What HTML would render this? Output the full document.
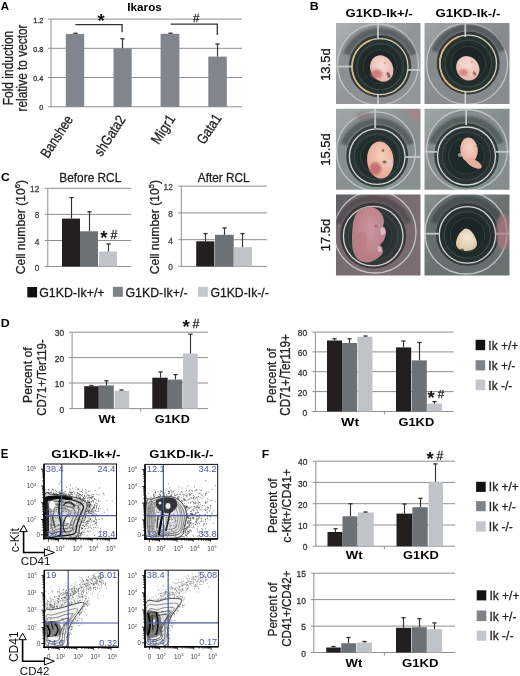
<!DOCTYPE html><html><head><meta charset="utf-8"><style>html,body{margin:0;padding:0;background:#fff;overflow:hidden}svg{display:block;will-change:transform}</style></head><body><svg width="520" height="676" viewBox="0 0 520 676" font-family='"Liberation Sans", sans-serif'>
<rect width="520" height="676" fill="#fff"/>
<text x="0.80" y="10.00" font-size="11.5" font-weight="bold" fill="#000" textLength="8.3" lengthAdjust="spacingAndGlyphs">A</text>
<text x="144.60" y="10.70" font-size="11.5" font-weight="bold" text-anchor="middle" fill="#000" textLength="34.5" lengthAdjust="spacingAndGlyphs">Ikaros</text>
<line x1="51.00" y1="19.10" x2="242.00" y2="19.10" stroke="#8f8f8f" stroke-width="1"/>
<line x1="48.00" y1="19.10" x2="51.00" y2="19.10" stroke="#8f8f8f" stroke-width="1"/>
<line x1="51.00" y1="48.30" x2="242.00" y2="48.30" stroke="#8f8f8f" stroke-width="1"/>
<line x1="48.00" y1="48.30" x2="51.00" y2="48.30" stroke="#8f8f8f" stroke-width="1"/>
<line x1="51.00" y1="77.50" x2="242.00" y2="77.50" stroke="#8f8f8f" stroke-width="1"/>
<line x1="48.00" y1="77.50" x2="51.00" y2="77.50" stroke="#8f8f8f" stroke-width="1"/>
<line x1="51.00" y1="106.80" x2="242.00" y2="106.80" stroke="#8f8f8f" stroke-width="1"/>
<line x1="48.00" y1="106.80" x2="51.00" y2="106.80" stroke="#8f8f8f" stroke-width="1"/>
<line x1="51.00" y1="19.10" x2="51.00" y2="106.80" stroke="#8f8f8f" stroke-width="1"/>
<text x="43.20" y="22.63" font-size="7.2" text-anchor="end" fill="#333" stroke="#333" stroke-width="0.28">1.2</text>
<text x="43.20" y="51.83" font-size="7.2" text-anchor="end" fill="#333" stroke="#333" stroke-width="0.28">0.8</text>
<text x="43.20" y="81.03" font-size="7.2" text-anchor="end" fill="#333" stroke="#333" stroke-width="0.28">0.4</text>
<text x="43.20" y="110.33" font-size="7.2" text-anchor="end" fill="#333" stroke="#333" stroke-width="0.28">0</text>
<rect x="65.80" y="34.00" width="18.40" height="72.80" fill="#80868d"/>
<line x1="75.50" y1="34.00" x2="75.50" y2="33.30" stroke="#333" stroke-width="1.15"/>
<line x1="73.40" y1="33.30" x2="77.60" y2="33.30" stroke="#333" stroke-width="1.3"/>
<rect x="113.50" y="48.40" width="18.20" height="58.40" fill="#80868d"/>
<line x1="122.50" y1="48.40" x2="122.50" y2="38.80" stroke="#333" stroke-width="1.15"/>
<line x1="120.40" y1="38.80" x2="124.60" y2="38.80" stroke="#333" stroke-width="1.3"/>
<rect x="160.60" y="33.80" width="18.80" height="73.00" fill="#80868d"/>
<line x1="170.50" y1="33.80" x2="170.50" y2="33.20" stroke="#333" stroke-width="1.15"/>
<line x1="168.40" y1="33.20" x2="172.60" y2="33.20" stroke="#333" stroke-width="1.3"/>
<rect x="208.30" y="56.60" width="18.50" height="50.20" fill="#80868d"/>
<line x1="217.50" y1="56.60" x2="217.50" y2="44.00" stroke="#333" stroke-width="1.15"/>
<line x1="215.40" y1="44.00" x2="219.60" y2="44.00" stroke="#333" stroke-width="1.3"/>
<polyline points="75.4,24.6 122.1,24.6 122.1,32.3" fill="none" stroke="#333" stroke-width="1.3"/>
<polyline points="170.8,24.2 217.3,24.2 217.3,34.9" fill="none" stroke="#333" stroke-width="1.3"/>
<text x="101.20" y="27.31" font-size="18.5" font-weight="bold" text-anchor="middle" fill="#111">*</text>
<text x="196.15" y="22.30" font-size="11.5" text-anchor="middle" fill="#222" stroke="#222" stroke-width="0.28">#</text>
<text transform="translate(13.20,68.00) rotate(-90)" font-size="14" text-anchor="middle" fill="#222" textLength="74.5" lengthAdjust="spacingAndGlyphs" stroke="#222" stroke-width="0.28">Fold induction</text>
<text transform="translate(26.80,68.00) rotate(-90)" font-size="13.8" text-anchor="middle" fill="#222" textLength="87" lengthAdjust="spacingAndGlyphs" stroke="#222" stroke-width="0.28">relative to vector</text>
<text transform="translate(73.50,119.50) rotate(-57)" font-size="14.5" text-anchor="end" fill="#222" textLength="47" lengthAdjust="spacingAndGlyphs" stroke="#222" stroke-width="0.28">Banshee</text>
<text transform="translate(126.00,119.50) rotate(-57)" font-size="14.5" text-anchor="end" fill="#222" textLength="45" lengthAdjust="spacingAndGlyphs" stroke="#222" stroke-width="0.28">shGata2</text>
<text transform="translate(176.00,118.50) rotate(-57)" font-size="14.5" text-anchor="end" fill="#222" textLength="32" lengthAdjust="spacingAndGlyphs" stroke="#222" stroke-width="0.28">Migr1</text>
<text transform="translate(222.00,118.00) rotate(-57)" font-size="14.5" text-anchor="end" fill="#222" textLength="32.5" lengthAdjust="spacingAndGlyphs" stroke="#222" stroke-width="0.28">Gata1</text>
<text x="309.70" y="10.00" font-size="11.8" font-weight="bold" fill="#000" textLength="9" lengthAdjust="spacingAndGlyphs">B</text>
<text x="379.10" y="17.20" font-size="11.3" font-weight="bold" text-anchor="middle" fill="#000" textLength="67.2" lengthAdjust="spacingAndGlyphs">G1KD-Ik+/-</text>
<text x="467.90" y="17.20" font-size="11.3" font-weight="bold" text-anchor="middle" fill="#000" textLength="64.9" lengthAdjust="spacingAndGlyphs">G1KD-Ik-/-</text>
<text transform="translate(329.70,64.60) rotate(-90)" font-size="13.5" text-anchor="middle" fill="#111" textLength="32.5" lengthAdjust="spacingAndGlyphs" stroke="#111" stroke-width="0.28">13.5d</text>
<text transform="translate(329.70,149.50) rotate(-90)" font-size="13.5" text-anchor="middle" fill="#111" textLength="32.5" lengthAdjust="spacingAndGlyphs" stroke="#111" stroke-width="0.28">15.5d</text>
<text transform="translate(329.70,235.00) rotate(-90)" font-size="13.5" text-anchor="middle" fill="#111" textLength="32.5" lengthAdjust="spacingAndGlyphs" stroke="#111" stroke-width="0.28">17.5d</text>
<defs><clipPath id="pc0"><rect x="336" y="23" width="84.5" height="81.0"/></clipPath><radialGradient id="pw0" gradientUnits="userSpaceOnUse" cx="380" cy="66.7" r="28"><stop offset="0" stop-color="#1d2726"/><stop offset="0.6" stop-color="#1d2726"/><stop offset="1" stop-color="#2b3535"/></radialGradient><linearGradient id="pb0" x1="0" y1="0" x2="1" y2="1"><stop offset="0" stop-color="#aeb0b3"/><stop offset="0.5" stop-color="#939598"/><stop offset="1" stop-color="#939598"/></linearGradient><radialGradient id="pe0" cx="0.55" cy="0.4" r="0.6"><stop offset="0" stop-color="#f6dcd6"/><stop offset="1" stop-color="#e6b4ac"/></radialGradient><clipPath id="pc1"><rect x="424.5" y="23" width="85.0" height="81.0"/></clipPath><radialGradient id="pw1" gradientUnits="userSpaceOnUse" cx="468.2" cy="63.5" r="28.3"><stop offset="0" stop-color="#1d2726"/><stop offset="0.6" stop-color="#1d2726"/><stop offset="1" stop-color="#2b3534"/></radialGradient><linearGradient id="pb1" x1="0" y1="0" x2="1" y2="1"><stop offset="0" stop-color="#a2a4a7"/><stop offset="0.5" stop-color="#898b8e"/><stop offset="1" stop-color="#898b8e"/></linearGradient><radialGradient id="pe1" cx="0.55" cy="0.4" r="0.6"><stop offset="0" stop-color="#f6dcd4"/><stop offset="1" stop-color="#e8bab0"/></radialGradient><clipPath id="pc2"><rect x="336" y="108.7" width="84.5" height="81.1"/></clipPath><radialGradient id="pw2" gradientUnits="userSpaceOnUse" cx="377.2" cy="156.6" r="27.8"><stop offset="0" stop-color="#1f2b2a"/><stop offset="0.6" stop-color="#1f2b2a"/><stop offset="1" stop-color="#2d3938"/></radialGradient><linearGradient id="pb2" x1="0" y1="0" x2="1" y2="1"><stop offset="0" stop-color="#a2aaa9"/><stop offset="0.5" stop-color="#899190"/><stop offset="1" stop-color="#899190"/></linearGradient><radialGradient id="pe2" cx="0.55" cy="0.4" r="0.6"><stop offset="0" stop-color="#f6d2bf"/><stop offset="1" stop-color="#eaa892"/></radialGradient><clipPath id="pc3"><rect x="424.5" y="108.7" width="85.0" height="81.1"/></clipPath><radialGradient id="pw3" gradientUnits="userSpaceOnUse" cx="466.5" cy="156" r="29"><stop offset="0" stop-color="#1f2a29"/><stop offset="0.6" stop-color="#1f2a29"/><stop offset="1" stop-color="#2d3837"/></radialGradient><linearGradient id="pb3" x1="0" y1="0" x2="1" y2="1"><stop offset="0" stop-color="#a0a8a7"/><stop offset="0.5" stop-color="#868e8d"/><stop offset="1" stop-color="#868e8d"/></linearGradient><radialGradient id="pe3" cx="0.55" cy="0.4" r="0.6"><stop offset="0" stop-color="#f4d4c8"/><stop offset="1" stop-color="#e8ae9e"/></radialGradient><clipPath id="pc4"><rect x="336" y="194.6" width="84.5" height="81.0"/></clipPath><radialGradient id="pw4" gradientUnits="userSpaceOnUse" cx="373.2" cy="236.1" r="29.8"><stop offset="0" stop-color="#283030"/><stop offset="0.6" stop-color="#283030"/><stop offset="1" stop-color="#343a3a"/></radialGradient><linearGradient id="pb4" x1="0" y1="0" x2="1" y2="1"><stop offset="0" stop-color="#5e5e62"/><stop offset="0.5" stop-color="#7a6e72"/><stop offset="1" stop-color="#7a6e72"/></linearGradient><radialGradient id="pe4" cx="0.55" cy="0.4" r="0.6"><stop offset="0" stop-color="#cc969c"/><stop offset="1" stop-color="#b47a84"/></radialGradient><clipPath id="pc5"><rect x="424.5" y="194.6" width="85.0" height="81.0"/></clipPath><radialGradient id="pw5" gradientUnits="userSpaceOnUse" cx="467.4" cy="234.9" r="28.2"><stop offset="0" stop-color="#1c2625"/><stop offset="0.6" stop-color="#1c2625"/><stop offset="1" stop-color="#2a3433"/></radialGradient><linearGradient id="pb5" x1="0" y1="0" x2="1" y2="1"><stop offset="0" stop-color="#8c9291"/><stop offset="0.5" stop-color="#6a7170"/><stop offset="1" stop-color="#6a7170"/></linearGradient><radialGradient id="pe5" cx="0.55" cy="0.4" r="0.6"><stop offset="0" stop-color="#f2e8d8"/><stop offset="1" stop-color="#dcc6a8"/></radialGradient><filter id="pbl" x="-5%" y="-5%" width="110%" height="110%"><feGaussianBlur stdDeviation="0.5"/></filter><filter id="pbl2" x="-20%" y="-20%" width="140%" height="140%"><feGaussianBlur stdDeviation="1.2"/></filter></defs>
<g clip-path="url(#pc0)"><g filter="url(#pbl)"><rect x="334" y="21" width="88.5" height="85.0" fill="url(#pb0)"/><circle cx="378" cy="64.5" r="39.5" fill="#8c9093"/><circle cx="378" cy="64.5" r="40.5" fill="none" stroke="#bfc2c5" stroke-width="1.3"/><path d="M346.6,54.6 A35.5,35.5 0 0 1 413.4,54.6" fill="none" stroke="#363c3e" stroke-width="7" opacity="0.55" filter="url(#pbl2)"/><circle cx="380.0" cy="66.2" r="31.2" fill="#363c3e"/><circle cx="380" cy="66.7" r="28" fill="url(#pw0)"/><circle cx="380" cy="66.7" r="23" fill="none" stroke="#3e4c4b" stroke-width="1.2" opacity="0.8"/><circle cx="380" cy="66.7" r="17" fill="none" stroke="#3a4847" stroke-width="1.0" opacity="0.7"/><circle cx="380" cy="66.7" r="28" fill="none" stroke="#d6ccb2" stroke-width="1.3"/><path d="M370.4,93.0 A28,28 0 0 1 370.4,40.4" fill="none" stroke="#d9b878" stroke-width="1.6"/><line x1="336" y1="66.5" x2="352" y2="66.5" stroke="#c4c6c8" stroke-width="1.8"/><line x1="408" y1="70" x2="420.5" y2="70" stroke="#c4c6c8" stroke-width="1.8"/><line x1="378" y1="23" x2="378" y2="38" stroke="#c4c6c8" stroke-width="1.8"/><line x1="378" y1="95" x2="378" y2="104" stroke="#c4c6c8" stroke-width="1.8"/></g><g filter="url(#pbl)"><ellipse cx="381.8" cy="68.5" rx="11.3" ry="13.6" transform="rotate(-25 381.8 68.5)" fill="url(#pe0)"/><ellipse cx="388.5" cy="75" rx="1.4" ry="3.2" transform="rotate(-20 388.5 75)" fill="#2a1a1a" opacity="0.6" filter="url(#pbl)"/><ellipse cx="385" cy="63" rx="1.5" ry="1.2" transform="rotate(0 385 63)" fill="#c09080" opacity="0.5" filter="url(#pbl)"/></g><ellipse cx="376.5" cy="74" rx="6" ry="4.5" fill="#c86a66" opacity="0.75" filter="url(#pbl2)"/></g>
<g clip-path="url(#pc1)"><g filter="url(#pbl)"><rect x="422.5" y="21" width="89.0" height="85.0" fill="url(#pb1)"/><circle cx="467" cy="64" r="39.5" fill="#868a8d"/><circle cx="467" cy="64" r="40.5" fill="none" stroke="#bfc2c5" stroke-width="1.3"/><path d="M434.6,51.3 A35.8,35.8 0 0 1 501.8,51.3" fill="none" stroke="#33393b" stroke-width="7" opacity="0.55" filter="url(#pbl2)"/><circle cx="468.2" cy="63.0" r="31.5" fill="#33393b"/><circle cx="468.2" cy="63.5" r="28.3" fill="url(#pw1)"/><circle cx="468.2" cy="63.5" r="23.3" fill="none" stroke="#3e4c4b" stroke-width="1.2" opacity="0.8"/><circle cx="468.2" cy="63.5" r="17.3" fill="none" stroke="#3a4847" stroke-width="1.0" opacity="0.7"/><circle cx="468.2" cy="63.5" r="28.3" fill="none" stroke="#d6ccb2" stroke-width="1.3"/><path d="M458.5,90.1 A28.3,28.3 0 0 1 458.5,36.9" fill="none" stroke="#d9b878" stroke-width="1.6"/><line x1="465.3" y1="23" x2="465.3" y2="37" stroke="#c4c6c8" stroke-width="1.8"/><line x1="465.3" y1="92" x2="465.3" y2="104" stroke="#c4c6c8" stroke-width="1.8"/></g><g filter="url(#pbl)"><ellipse cx="467.8" cy="68.3" rx="11.2" ry="12.6" transform="rotate(-35 467.8 68.3)" fill="url(#pe1)"/><ellipse cx="474.5" cy="73.5" rx="1.3" ry="2.6" transform="rotate(-30 474.5 73.5)" fill="#2a1a1a" opacity="0.55" filter="url(#pbl)"/><ellipse cx="472" cy="62" rx="1.3" ry="1.2" transform="rotate(0 472 62)" fill="#c09080" opacity="0.5" filter="url(#pbl)"/></g><ellipse cx="463.5" cy="72.5" rx="4.5" ry="3.5" fill="#cc7470" opacity="0.75" filter="url(#pbl2)"/></g>
<g clip-path="url(#pc2)"><g filter="url(#pbl)"><rect x="334" y="106.7" width="88.5" height="85.1" fill="url(#pb2)"/><circle cx="376" cy="151.3" r="38.5" fill="#86908f"/><circle cx="376" cy="151.3" r="39.5" fill="none" stroke="#bfc2c5" stroke-width="1.3"/><path d="M344.0,144.5 A35.3,35.3 0 0 1 410.4,144.5" fill="none" stroke="#343e3d" stroke-width="7" opacity="0.55" filter="url(#pbl2)"/><circle cx="377.2" cy="156.1" r="31.0" fill="#343e3d"/><circle cx="377.2" cy="156.6" r="27.8" fill="url(#pw2)"/><circle cx="377.2" cy="156.6" r="22.8" fill="none" stroke="#3e4c4b" stroke-width="1.2" opacity="0.8"/><circle cx="377.2" cy="156.6" r="16.8" fill="none" stroke="#3a4847" stroke-width="1.0" opacity="0.7"/><circle cx="377.2" cy="156.6" r="27.8" fill="none" stroke="#d2d4d2" stroke-width="1.3"/><line x1="375.2" y1="108.7" x2="375.2" y2="128" stroke="#c4c6c8" stroke-width="1.8"/><line x1="405" y1="157" x2="420.5" y2="157" stroke="#c4c6c8" stroke-width="1.8"/><ellipse cx="416" cy="114" rx="8" ry="7" fill="#b08088" opacity="0.6" filter="url(#pbl2)"/><ellipse cx="365" cy="116" rx="9" ry="4" fill="#8a7078" opacity="0.5" filter="url(#pbl2)"/></g><g filter="url(#pbl)"><ellipse cx="380.3" cy="160" rx="13.2" ry="18.6" transform="rotate(-4 380.3 160)" fill="url(#pe2)"/><ellipse cx="383" cy="150.5" rx="1.4" ry="1.4" transform="rotate(0 383 150.5)" fill="#5a3030" opacity="0.55" filter="url(#pbl)"/><ellipse cx="384.5" cy="162" rx="2" ry="1.5" transform="rotate(0 384.5 162)" fill="#3a2020" opacity="0.6" filter="url(#pbl)"/><ellipse cx="390" cy="164" rx="2.5" ry="5" transform="rotate(0 390 164)" fill="#d8d0d0" opacity="0.6" filter="url(#pbl)"/></g><ellipse cx="375.5" cy="168.5" rx="6" ry="6.5" fill="#b85a66" opacity="0.75" filter="url(#pbl2)"/></g>
<g clip-path="url(#pc3)"><g filter="url(#pbl)"><rect x="422.5" y="106.7" width="89.0" height="85.1" fill="url(#pb3)"/><circle cx="467" cy="150" r="39.5" fill="#838d8b"/><circle cx="467" cy="150" r="40.5" fill="none" stroke="#bfc2c5" stroke-width="1.3"/><path d="M432.2,143.5 A36.5,36.5 0 0 1 500.8,143.5" fill="none" stroke="#323c3b" stroke-width="7" opacity="0.55" filter="url(#pbl2)"/><circle cx="466.5" cy="155.5" r="32.2" fill="#323c3b"/><circle cx="466.5" cy="156" r="29" fill="url(#pw3)"/><circle cx="466.5" cy="156" r="24" fill="none" stroke="#3e4c4b" stroke-width="1.2" opacity="0.8"/><circle cx="466.5" cy="156" r="18" fill="none" stroke="#3a4847" stroke-width="1.0" opacity="0.7"/><circle cx="466.5" cy="156" r="29" fill="none" stroke="#d6d8d6" stroke-width="1.3"/><line x1="466.1" y1="108.7" x2="466.1" y2="125" stroke="#c4c6c8" stroke-width="1.8"/><line x1="424.5" y1="151.8" x2="437" y2="151.8" stroke="#c4c6c8" stroke-width="1.8"/><line x1="496" y1="151.8" x2="509.5" y2="151.8" stroke="#c4c6c8" stroke-width="1.8"/></g><g filter="url(#pbl)"><ellipse cx="469" cy="150" rx="8.8" ry="12.5" transform="rotate(-5 469 150)" fill="url(#pe3)"/><ellipse cx="474" cy="163.5" rx="8.5" ry="3.8" transform="rotate(28 474 163.5)" fill="#e8ae9e"/><ellipse cx="460" cy="155" rx="2" ry="2" transform="rotate(0 460 155)" fill="#e0e0e0" opacity="0.6" filter="url(#pbl)"/><ellipse cx="476" cy="146" rx="1.2" ry="1.2" transform="rotate(0 476 146)" fill="#906868" opacity="0.4" filter="url(#pbl)"/></g></g>
<g clip-path="url(#pc4)"><g filter="url(#pbl)"><rect x="334" y="192.6" width="88.5" height="85.0" fill="url(#pb4)"/><circle cx="375" cy="232" r="40" fill="#7a6a70"/><circle cx="375" cy="232" r="41" fill="none" stroke="#bfc2c5" stroke-width="1.3"/><path d="M338.1,223.3 A37.3,37.3 0 0 1 408.3,223.3" fill="none" stroke="#3a3a3e" stroke-width="7" opacity="0.55" filter="url(#pbl2)"/><circle cx="373.2" cy="235.6" r="33.0" fill="#3a3a3e"/><circle cx="373.2" cy="236.1" r="29.8" fill="url(#pw4)"/><circle cx="373.2" cy="236.1" r="24.8" fill="none" stroke="#3e4c4b" stroke-width="1.2" opacity="0.8"/><circle cx="373.2" cy="236.1" r="18.8" fill="none" stroke="#3a4847" stroke-width="1.0" opacity="0.7"/><circle cx="373.2" cy="236.1" r="29.8" fill="none" stroke="#cfd1d1" stroke-width="1.3"/></g><g filter="url(#pbl)"><path d="M362.0,208.5C364.7,207.3 369.0,206.4 372.0,207.0C375.0,207.6 378.0,209.8 380.0,212.0C382.0,214.2 383.5,217.3 384.0,220.0C384.5,222.7 382.7,226.0 383.0,228.0C383.3,230.0 385.8,230.0 386.0,232.0C386.2,234.0 385.0,237.7 384.0,240.0C383.0,242.3 380.2,244.0 380.0,246.0C379.8,248.0 383.3,250.0 383.0,252.0C382.7,254.0 380.5,256.2 378.0,258.0C375.5,259.8 371.3,262.2 368.0,262.5C364.7,262.8 360.5,261.6 358.0,259.5C355.5,257.4 354.0,253.6 353.0,250.0C352.0,246.4 352.0,242.3 352.0,238.0C352.0,233.7 352.3,228.0 353.0,224.0C353.7,220.0 354.5,216.6 356.0,214.0C357.5,211.4 359.3,209.7 362.0,208.5Z" fill="url(#pe4)"/><ellipse cx="383" cy="231" rx="2.5" ry="4" transform="rotate(0 383 231)" fill="#e6c8c8" opacity="0.8" filter="url(#pbl)"/><ellipse cx="380" cy="249" rx="2.5" ry="3" transform="rotate(0 380 249)" fill="#e6c8c8" opacity="0.7" filter="url(#pbl)"/><ellipse cx="376" cy="226" rx="1.5" ry="1.5" transform="rotate(0 376 226)" fill="#6a4040" opacity="0.45" filter="url(#pbl)"/><ellipse cx="362" cy="240" rx="5" ry="9" transform="rotate(0 362 240)" fill="#b87478" opacity="0.4" filter="url(#pbl)"/></g></g>
<g clip-path="url(#pc5)"><g filter="url(#pbl)"><rect x="422.5" y="192.6" width="89.0" height="85.0" fill="url(#pb5)"/><circle cx="466" cy="233" r="40" fill="#666e6e"/><circle cx="466" cy="233" r="41" fill="none" stroke="#bfc2c5" stroke-width="1.3"/><path d="M433.9,222.7 A35.7,35.7 0 0 1 500.9,222.7" fill="none" stroke="#323a3a" stroke-width="7" opacity="0.55" filter="url(#pbl2)"/><circle cx="467.4" cy="234.4" r="31.4" fill="#323a3a"/><circle cx="467.4" cy="234.9" r="28.2" fill="url(#pw5)"/><circle cx="467.4" cy="234.9" r="23.2" fill="none" stroke="#3e4c4b" stroke-width="1.2" opacity="0.8"/><circle cx="467.4" cy="234.9" r="17.2" fill="none" stroke="#3a4847" stroke-width="1.0" opacity="0.7"/><circle cx="467.4" cy="234.9" r="28.2" fill="none" stroke="#d4d4d0" stroke-width="1.3"/><line x1="424.5" y1="233.7" x2="440" y2="233.7" stroke="#c4c6c8" stroke-width="1.8"/><line x1="495" y1="233.7" x2="509.5" y2="233.7" stroke="#c4c6c8" stroke-width="1.8"/><ellipse cx="503" cy="232" rx="7" ry="18" fill="#b07a80" opacity="0.7" filter="url(#pbl2)"/></g><g filter="url(#pbl)"><path d="M466.0,228.5C467.5,228.5 469.5,229.6 471.0,231.0C472.5,232.4 474.0,234.8 475.0,237.0C476.0,239.2 477.2,242.0 477.0,244.0C476.8,246.0 475.8,247.8 474.0,249.0C472.2,250.2 468.5,251.0 466.0,251.0C463.5,251.0 460.7,250.2 459.0,249.0C457.3,247.8 456.2,246.2 456.0,244.0C455.8,241.8 457.0,238.2 458.0,236.0C459.0,233.8 460.7,232.2 462.0,231.0C463.3,229.8 464.5,228.5 466.0,228.5Z" fill="url(#pe5)"/><ellipse cx="462" cy="250" rx="2" ry="1.5" transform="rotate(0 462 250)" fill="#2a2a2a" opacity="0.6" filter="url(#pbl)"/></g></g>
<text x="0.90" y="181.00" font-size="11.5" font-weight="bold" fill="#000" textLength="8.8" lengthAdjust="spacingAndGlyphs">C</text>
<text x="90.30" y="182.20" font-size="12.2" text-anchor="middle" fill="#222" textLength="62" lengthAdjust="spacingAndGlyphs" stroke="#222" stroke-width="0.28">Before RCL</text>
<line x1="47.80" y1="188.30" x2="131.20" y2="188.30" stroke="#8f8f8f" stroke-width="1"/>
<line x1="44.80" y1="188.30" x2="47.80" y2="188.30" stroke="#8f8f8f" stroke-width="1"/>
<line x1="47.80" y1="214.40" x2="131.20" y2="214.40" stroke="#8f8f8f" stroke-width="1"/>
<line x1="44.80" y1="214.40" x2="47.80" y2="214.40" stroke="#8f8f8f" stroke-width="1"/>
<line x1="47.80" y1="240.50" x2="131.20" y2="240.50" stroke="#8f8f8f" stroke-width="1"/>
<line x1="44.80" y1="240.50" x2="47.80" y2="240.50" stroke="#8f8f8f" stroke-width="1"/>
<line x1="47.80" y1="266.50" x2="131.20" y2="266.50" stroke="#8f8f8f" stroke-width="1"/>
<line x1="44.80" y1="266.50" x2="47.80" y2="266.50" stroke="#8f8f8f" stroke-width="1"/>
<line x1="47.80" y1="188.30" x2="47.80" y2="266.50" stroke="#8f8f8f" stroke-width="1"/>
<text x="39.30" y="192.37" font-size="8.3" text-anchor="end" fill="#444" stroke="#444" stroke-width="0.28">12</text>
<text x="39.30" y="218.47" font-size="8.3" text-anchor="end" fill="#444" stroke="#444" stroke-width="0.28">8</text>
<text x="39.30" y="244.57" font-size="8.3" text-anchor="end" fill="#444" stroke="#444" stroke-width="0.28">4</text>
<text x="39.30" y="270.57" font-size="8.3" text-anchor="end" fill="#444" stroke="#444" stroke-width="0.28">0</text>
<rect x="62.00" y="218.60" width="18.00" height="47.90" fill="#231f20"/>
<line x1="71.50" y1="218.60" x2="71.50" y2="197.60" stroke="#333" stroke-width="1.15"/>
<line x1="69.40" y1="197.60" x2="73.60" y2="197.60" stroke="#333" stroke-width="1.3"/>
<rect x="80.00" y="231.30" width="18.00" height="35.20" fill="#6c7175"/>
<line x1="89.50" y1="231.30" x2="89.50" y2="211.70" stroke="#333" stroke-width="1.15"/>
<line x1="87.40" y1="211.70" x2="91.60" y2="211.70" stroke="#333" stroke-width="1.3"/>
<rect x="99.00" y="251.50" width="18.00" height="15.00" fill="#c0c4c8"/>
<line x1="108.50" y1="251.50" x2="108.50" y2="244.00" stroke="#333" stroke-width="1.15"/>
<line x1="106.40" y1="244.00" x2="110.60" y2="244.00" stroke="#333" stroke-width="1.3"/>
<text x="103.75" y="243.56" font-size="18.5" font-weight="bold" text-anchor="middle" fill="#111">*</text>
<text x="113.90" y="238.50" font-size="12.2" text-anchor="middle" fill="#222" stroke="#222" stroke-width="0.28">#</text>
<text transform="translate(24.50,227.20) rotate(-90)" font-size="12.1" text-anchor="middle" fill="#222" stroke="#222" stroke-width="0.28">Cell number (10<tspan font-size="7.5" dy="-5">6</tspan><tspan dy="5">)</tspan></text>
<text x="223.70" y="182.20" font-size="12.2" text-anchor="middle" fill="#222" textLength="51.8" lengthAdjust="spacingAndGlyphs" stroke="#222" stroke-width="0.28">After RCL</text>
<line x1="181.30" y1="186.10" x2="267.00" y2="186.10" stroke="#8f8f8f" stroke-width="1"/>
<line x1="178.30" y1="186.10" x2="181.30" y2="186.10" stroke="#8f8f8f" stroke-width="1"/>
<line x1="181.30" y1="212.90" x2="267.00" y2="212.90" stroke="#8f8f8f" stroke-width="1"/>
<line x1="178.30" y1="212.90" x2="181.30" y2="212.90" stroke="#8f8f8f" stroke-width="1"/>
<line x1="181.30" y1="239.70" x2="267.00" y2="239.70" stroke="#8f8f8f" stroke-width="1"/>
<line x1="178.30" y1="239.70" x2="181.30" y2="239.70" stroke="#8f8f8f" stroke-width="1"/>
<line x1="181.30" y1="266.40" x2="267.00" y2="266.40" stroke="#8f8f8f" stroke-width="1"/>
<line x1="178.30" y1="266.40" x2="181.30" y2="266.40" stroke="#8f8f8f" stroke-width="1"/>
<line x1="181.30" y1="186.10" x2="181.30" y2="266.40" stroke="#8f8f8f" stroke-width="1"/>
<text x="172.80" y="190.17" font-size="8.3" text-anchor="end" fill="#444" stroke="#444" stroke-width="0.28">12</text>
<text x="172.80" y="216.97" font-size="8.3" text-anchor="end" fill="#444" stroke="#444" stroke-width="0.28">8</text>
<text x="172.80" y="243.77" font-size="8.3" text-anchor="end" fill="#444" stroke="#444" stroke-width="0.28">4</text>
<text x="172.80" y="270.47" font-size="8.3" text-anchor="end" fill="#444" stroke="#444" stroke-width="0.28">0</text>
<rect x="196.20" y="241.30" width="18.20" height="25.10" fill="#231f20"/>
<line x1="205.50" y1="241.30" x2="205.50" y2="233.60" stroke="#333" stroke-width="1.15"/>
<line x1="203.40" y1="233.60" x2="207.60" y2="233.60" stroke="#333" stroke-width="1.3"/>
<rect x="215.00" y="234.80" width="18.70" height="31.60" fill="#6c7175"/>
<line x1="224.50" y1="234.80" x2="224.50" y2="227.90" stroke="#333" stroke-width="1.15"/>
<line x1="222.40" y1="227.90" x2="226.60" y2="227.90" stroke="#333" stroke-width="1.3"/>
<rect x="233.70" y="247.20" width="18.30" height="19.20" fill="#c0c4c8"/>
<line x1="242.50" y1="247.20" x2="242.50" y2="233.60" stroke="#333" stroke-width="1.15"/>
<line x1="240.40" y1="233.60" x2="244.60" y2="233.60" stroke="#333" stroke-width="1.3"/>
<text transform="translate(158.60,227.20) rotate(-90)" font-size="12.1" text-anchor="middle" fill="#222" stroke="#222" stroke-width="0.28">Cell number (10<tspan font-size="7.5" dy="-5">5</tspan><tspan dy="5">)</tspan></text>
<rect x="27.30" y="287.00" width="9.80" height="10.40" fill="#111"/>
<text x="39.20" y="297.00" font-size="12.5" fill="#1a1a1a" textLength="65.4" lengthAdjust="spacingAndGlyphs" stroke="#1a1a1a" stroke-width="0.28">G1KD-Ik+/+</text>
<rect x="112.90" y="286.80" width="10.00" height="10.00" fill="#7e8388"/>
<text x="125.40" y="297.00" font-size="12.5" fill="#1a1a1a" textLength="62.2" lengthAdjust="spacingAndGlyphs" stroke="#1a1a1a" stroke-width="0.28">G1KD-Ik+/-</text>
<rect x="198.10" y="286.80" width="9.70" height="10.00" fill="#c3c6cb"/>
<text x="210.40" y="297.00" font-size="12.5" fill="#1a1a1a" textLength="58.4" lengthAdjust="spacingAndGlyphs" stroke="#1a1a1a" stroke-width="0.28">G1KD-Ik-/-</text>
<text x="0.70" y="327.20" font-size="11.5" font-weight="bold" fill="#000" textLength="9" lengthAdjust="spacingAndGlyphs">D</text>
<line x1="72.10" y1="332.20" x2="208.00" y2="332.20" stroke="#8f8f8f" stroke-width="1"/>
<line x1="69.10" y1="332.20" x2="72.10" y2="332.20" stroke="#8f8f8f" stroke-width="1"/>
<line x1="72.10" y1="357.60" x2="208.00" y2="357.60" stroke="#8f8f8f" stroke-width="1"/>
<line x1="69.10" y1="357.60" x2="72.10" y2="357.60" stroke="#8f8f8f" stroke-width="1"/>
<line x1="72.10" y1="383.00" x2="208.00" y2="383.00" stroke="#8f8f8f" stroke-width="1"/>
<line x1="69.10" y1="383.00" x2="72.10" y2="383.00" stroke="#8f8f8f" stroke-width="1"/>
<line x1="72.10" y1="408.60" x2="208.00" y2="408.60" stroke="#8f8f8f" stroke-width="1"/>
<line x1="69.10" y1="408.60" x2="72.10" y2="408.60" stroke="#8f8f8f" stroke-width="1"/>
<line x1="72.10" y1="332.20" x2="72.10" y2="408.60" stroke="#8f8f8f" stroke-width="1"/>
<text x="64.20" y="336.32" font-size="8.4" text-anchor="end" fill="#333" stroke="#333" stroke-width="0.28">30</text>
<text x="64.20" y="361.72" font-size="8.4" text-anchor="end" fill="#333" stroke="#333" stroke-width="0.28">20</text>
<text x="64.20" y="387.12" font-size="8.4" text-anchor="end" fill="#333" stroke="#333" stroke-width="0.28">10</text>
<text x="64.20" y="412.72" font-size="8.4" text-anchor="end" fill="#333" stroke="#333" stroke-width="0.28">0</text>
<line x1="140.80" y1="408.60" x2="140.80" y2="411.60" stroke="#8f8f8f" stroke-width="1"/>
<rect x="84.20" y="386.20" width="14.60" height="22.40" fill="#231f20"/>
<line x1="91.50" y1="386.20" x2="91.50" y2="385.50" stroke="#333" stroke-width="1.15"/>
<line x1="89.40" y1="385.50" x2="93.60" y2="385.50" stroke="#333" stroke-width="1.3"/>
<rect x="98.80" y="385.40" width="15.00" height="23.20" fill="#6c7175"/>
<line x1="106.50" y1="385.40" x2="106.50" y2="380.80" stroke="#333" stroke-width="1.15"/>
<line x1="104.40" y1="380.80" x2="108.60" y2="380.80" stroke="#333" stroke-width="1.3"/>
<rect x="114.60" y="390.80" width="14.60" height="17.80" fill="#c0c4c8"/>
<line x1="121.50" y1="390.80" x2="121.50" y2="390.00" stroke="#333" stroke-width="1.15"/>
<line x1="119.40" y1="390.00" x2="123.60" y2="390.00" stroke="#333" stroke-width="1.3"/>
<rect x="152.30" y="377.70" width="15.40" height="30.90" fill="#231f20"/>
<line x1="160.50" y1="377.70" x2="160.50" y2="371.90" stroke="#333" stroke-width="1.15"/>
<line x1="158.40" y1="371.90" x2="162.60" y2="371.90" stroke="#333" stroke-width="1.3"/>
<rect x="167.70" y="379.60" width="14.60" height="29.00" fill="#6c7175"/>
<line x1="175.50" y1="379.60" x2="175.50" y2="374.60" stroke="#333" stroke-width="1.15"/>
<line x1="173.40" y1="374.60" x2="177.60" y2="374.60" stroke="#333" stroke-width="1.3"/>
<rect x="183.00" y="353.50" width="14.70" height="55.10" fill="#c0c4c8"/>
<line x1="190.50" y1="353.50" x2="190.50" y2="334.20" stroke="#333" stroke-width="1.15"/>
<line x1="188.40" y1="334.20" x2="192.60" y2="334.20" stroke="#333" stroke-width="1.3"/>
<text x="186.00" y="332.87" font-size="18.5" font-weight="bold" text-anchor="middle" fill="#111">*</text>
<text x="195.90" y="327.60" font-size="12.3" text-anchor="middle" fill="#222" stroke="#222" stroke-width="0.28">#</text>
<text x="107.00" y="422.60" font-size="10.6" font-weight="bold" text-anchor="middle" fill="#000" textLength="16.8" lengthAdjust="spacingAndGlyphs">Wt</text>
<text x="172.30" y="422.60" font-size="10.6" font-weight="bold" text-anchor="middle" fill="#000" textLength="35" lengthAdjust="spacingAndGlyphs">G1KD</text>
<text transform="translate(32.00,375.20) rotate(-90)" font-size="13.3" text-anchor="middle" fill="#222" textLength="55.5" lengthAdjust="spacingAndGlyphs" stroke="#222" stroke-width="0.28">Percent of</text>
<text transform="translate(46.00,377.60) rotate(-90)" font-size="13.3" text-anchor="middle" fill="#222" textLength="76.4" lengthAdjust="spacingAndGlyphs" stroke="#222" stroke-width="0.28">CD71+/Ter119-</text>
<line x1="315.40" y1="332.10" x2="453.60" y2="332.10" stroke="#8f8f8f" stroke-width="1"/>
<line x1="312.40" y1="332.10" x2="315.40" y2="332.10" stroke="#8f8f8f" stroke-width="1"/>
<line x1="315.40" y1="351.90" x2="453.60" y2="351.90" stroke="#8f8f8f" stroke-width="1"/>
<line x1="312.40" y1="351.90" x2="315.40" y2="351.90" stroke="#8f8f8f" stroke-width="1"/>
<line x1="315.40" y1="371.70" x2="453.60" y2="371.70" stroke="#8f8f8f" stroke-width="1"/>
<line x1="312.40" y1="371.70" x2="315.40" y2="371.70" stroke="#8f8f8f" stroke-width="1"/>
<line x1="315.40" y1="391.60" x2="453.60" y2="391.60" stroke="#8f8f8f" stroke-width="1"/>
<line x1="312.40" y1="391.60" x2="315.40" y2="391.60" stroke="#8f8f8f" stroke-width="1"/>
<line x1="315.40" y1="411.50" x2="453.60" y2="411.50" stroke="#8f8f8f" stroke-width="1"/>
<line x1="312.40" y1="411.50" x2="315.40" y2="411.50" stroke="#8f8f8f" stroke-width="1"/>
<line x1="315.40" y1="332.10" x2="315.40" y2="411.50" stroke="#8f8f8f" stroke-width="1"/>
<text x="307.20" y="336.22" font-size="8.4" text-anchor="end" fill="#333" stroke="#333" stroke-width="0.28">80</text>
<text x="307.20" y="356.02" font-size="8.4" text-anchor="end" fill="#333" stroke="#333" stroke-width="0.28">60</text>
<text x="307.20" y="375.82" font-size="8.4" text-anchor="end" fill="#333" stroke="#333" stroke-width="0.28">40</text>
<text x="307.20" y="395.72" font-size="8.4" text-anchor="end" fill="#333" stroke="#333" stroke-width="0.28">20</text>
<text x="307.20" y="415.62" font-size="8.4" text-anchor="end" fill="#333" stroke="#333" stroke-width="0.28">0</text>
<line x1="384.40" y1="411.50" x2="384.40" y2="414.50" stroke="#8f8f8f" stroke-width="1"/>
<rect x="327.00" y="340.50" width="15.00" height="71.00" fill="#231f20"/>
<line x1="334.50" y1="340.50" x2="334.50" y2="338.75" stroke="#333" stroke-width="1.15"/>
<line x1="332.40" y1="338.75" x2="336.60" y2="338.75" stroke="#333" stroke-width="1.3"/>
<rect x="342.00" y="343.00" width="15.00" height="68.50" fill="#6c7175"/>
<line x1="349.50" y1="343.00" x2="349.50" y2="338.75" stroke="#333" stroke-width="1.15"/>
<line x1="347.40" y1="338.75" x2="351.60" y2="338.75" stroke="#333" stroke-width="1.3"/>
<rect x="357.50" y="336.75" width="15.00" height="74.75" fill="#c0c4c8"/>
<line x1="365.50" y1="336.75" x2="365.50" y2="336.00" stroke="#333" stroke-width="1.15"/>
<line x1="363.40" y1="336.00" x2="367.60" y2="336.00" stroke="#333" stroke-width="1.3"/>
<rect x="396.00" y="347.40" width="15.20" height="64.10" fill="#231f20"/>
<line x1="403.50" y1="347.40" x2="403.50" y2="341.00" stroke="#333" stroke-width="1.15"/>
<line x1="401.40" y1="341.00" x2="405.60" y2="341.00" stroke="#333" stroke-width="1.3"/>
<rect x="411.80" y="360.40" width="15.00" height="51.10" fill="#6c7175"/>
<line x1="419.50" y1="360.40" x2="419.50" y2="342.50" stroke="#333" stroke-width="1.15"/>
<line x1="417.40" y1="342.50" x2="421.60" y2="342.50" stroke="#333" stroke-width="1.3"/>
<rect x="427.10" y="403.60" width="15.00" height="7.90" fill="#c0c4c8"/>
<line x1="434.50" y1="403.60" x2="434.50" y2="401.60" stroke="#333" stroke-width="1.15"/>
<line x1="432.40" y1="401.60" x2="436.60" y2="401.60" stroke="#333" stroke-width="1.3"/>
<text x="431.00" y="404.17" font-size="18.5" font-weight="bold" text-anchor="middle" fill="#111">*</text>
<text x="440.90" y="398.30" font-size="11.5" text-anchor="middle" fill="#222" stroke="#222" stroke-width="0.28">#</text>
<text x="350.10" y="425.80" font-size="10.6" font-weight="bold" text-anchor="middle" fill="#000" textLength="18" lengthAdjust="spacingAndGlyphs">Wt</text>
<text x="416.30" y="425.80" font-size="10.6" font-weight="bold" text-anchor="middle" fill="#000" textLength="35.8" lengthAdjust="spacingAndGlyphs">G1KD</text>
<text transform="translate(275.50,375.60) rotate(-90)" font-size="13.4" text-anchor="middle" fill="#222" textLength="54.8" lengthAdjust="spacingAndGlyphs" stroke="#222" stroke-width="0.28">Percent of</text>
<text transform="translate(289.60,375.00) rotate(-90)" font-size="14.2" text-anchor="middle" fill="#222" textLength="81.6" lengthAdjust="spacingAndGlyphs" stroke="#222" stroke-width="0.28">CD71+/Ter119+</text>
<rect x="475.60" y="339.80" width="9.60" height="10.40" fill="#111"/>
<text x="488.30" y="349.70" font-size="12" fill="#222" stroke="#222" stroke-width="0.28">Ik +/+</text>
<rect x="475.60" y="360.20" width="9.60" height="10.20" fill="#7e8388"/>
<text x="488.30" y="369.90" font-size="12" fill="#222" stroke="#222" stroke-width="0.28">Ik +/-</text>
<rect x="475.60" y="379.60" width="9.60" height="10.60" fill="#c3c6cb"/>
<text x="488.30" y="389.70" font-size="12" fill="#222" stroke="#222" stroke-width="0.28">Ik -/-</text>
<text x="261.70" y="458.20" font-size="11.5" font-weight="bold" fill="#000" textLength="7.5" lengthAdjust="spacingAndGlyphs">F</text>
<line x1="315.80" y1="461.20" x2="455.10" y2="461.20" stroke="#8f8f8f" stroke-width="1"/>
<line x1="312.80" y1="461.20" x2="315.80" y2="461.20" stroke="#8f8f8f" stroke-width="1"/>
<line x1="315.80" y1="482.40" x2="455.10" y2="482.40" stroke="#8f8f8f" stroke-width="1"/>
<line x1="312.80" y1="482.40" x2="315.80" y2="482.40" stroke="#8f8f8f" stroke-width="1"/>
<line x1="315.80" y1="503.70" x2="455.10" y2="503.70" stroke="#8f8f8f" stroke-width="1"/>
<line x1="312.80" y1="503.70" x2="315.80" y2="503.70" stroke="#8f8f8f" stroke-width="1"/>
<line x1="315.80" y1="525.00" x2="455.10" y2="525.00" stroke="#8f8f8f" stroke-width="1"/>
<line x1="312.80" y1="525.00" x2="315.80" y2="525.00" stroke="#8f8f8f" stroke-width="1"/>
<line x1="315.80" y1="546.25" x2="455.10" y2="546.25" stroke="#8f8f8f" stroke-width="1"/>
<line x1="312.80" y1="546.25" x2="315.80" y2="546.25" stroke="#8f8f8f" stroke-width="1"/>
<line x1="315.80" y1="461.20" x2="315.80" y2="546.25" stroke="#8f8f8f" stroke-width="1"/>
<text x="307.40" y="465.32" font-size="8.4" text-anchor="end" fill="#333" stroke="#333" stroke-width="0.28">40</text>
<text x="307.40" y="486.52" font-size="8.4" text-anchor="end" fill="#333" stroke="#333" stroke-width="0.28">30</text>
<text x="307.40" y="507.82" font-size="8.4" text-anchor="end" fill="#333" stroke="#333" stroke-width="0.28">20</text>
<text x="307.40" y="529.12" font-size="8.4" text-anchor="end" fill="#333" stroke="#333" stroke-width="0.28">10</text>
<text x="307.40" y="550.37" font-size="8.4" text-anchor="end" fill="#333" stroke="#333" stroke-width="0.28">0</text>
<line x1="384.40" y1="546.25" x2="384.40" y2="549.25" stroke="#8f8f8f" stroke-width="1"/>
<rect x="327.50" y="532.00" width="15.00" height="14.25" fill="#231f20"/>
<line x1="335.50" y1="532.00" x2="335.50" y2="528.75" stroke="#333" stroke-width="1.15"/>
<line x1="333.40" y1="528.75" x2="337.60" y2="528.75" stroke="#333" stroke-width="1.3"/>
<rect x="342.50" y="516.25" width="15.00" height="30.00" fill="#6c7175"/>
<line x1="350.50" y1="516.25" x2="350.50" y2="503.75" stroke="#333" stroke-width="1.15"/>
<line x1="348.40" y1="503.75" x2="352.60" y2="503.75" stroke="#333" stroke-width="1.3"/>
<rect x="358.00" y="512.50" width="15.75" height="33.75" fill="#c0c4c8"/>
<line x1="365.50" y1="512.50" x2="365.50" y2="512.00" stroke="#333" stroke-width="1.15"/>
<line x1="363.40" y1="512.00" x2="367.60" y2="512.00" stroke="#333" stroke-width="1.3"/>
<rect x="396.50" y="513.60" width="15.90" height="32.65" fill="#231f20"/>
<line x1="404.50" y1="513.60" x2="404.50" y2="504.00" stroke="#333" stroke-width="1.15"/>
<line x1="402.40" y1="504.00" x2="406.60" y2="504.00" stroke="#333" stroke-width="1.3"/>
<rect x="412.40" y="507.20" width="15.30" height="39.05" fill="#6c7175"/>
<line x1="420.50" y1="507.20" x2="420.50" y2="498.30" stroke="#333" stroke-width="1.15"/>
<line x1="418.40" y1="498.30" x2="422.60" y2="498.30" stroke="#333" stroke-width="1.3"/>
<rect x="428.60" y="481.80" width="14.40" height="64.45" fill="#c0c4c8"/>
<line x1="435.50" y1="481.80" x2="435.50" y2="463.90" stroke="#333" stroke-width="1.15"/>
<line x1="433.40" y1="463.90" x2="437.60" y2="463.90" stroke="#333" stroke-width="1.3"/>
<text x="430.00" y="464.96" font-size="18.5" font-weight="bold" text-anchor="middle" fill="#111">*</text>
<text x="439.75" y="460.00" font-size="12" text-anchor="middle" fill="#222" stroke="#222" stroke-width="0.28">#</text>
<text x="354.20" y="559.40" font-size="10.6" font-weight="bold" text-anchor="middle" fill="#000" textLength="16.8" lengthAdjust="spacingAndGlyphs">Wt</text>
<text x="421.00" y="559.40" font-size="10.6" font-weight="bold" text-anchor="middle" fill="#000" textLength="35.8" lengthAdjust="spacingAndGlyphs">G1KD</text>
<text transform="translate(277.40,505.70) rotate(-90)" font-size="13.2" text-anchor="middle" fill="#222" textLength="54.8" lengthAdjust="spacingAndGlyphs" stroke="#222" stroke-width="0.28">Percent of</text>
<text transform="translate(291.10,505.70) rotate(-90)" font-size="13.3" text-anchor="middle" fill="#222" textLength="74" lengthAdjust="spacingAndGlyphs" stroke="#222" stroke-width="0.28">c-Kit+/CD41+</text>
<rect x="476.10" y="481.80" width="9.60" height="10.10" fill="#111"/>
<text x="488.80" y="491.40" font-size="12" fill="#222" stroke="#222" stroke-width="0.28">Ik +/+</text>
<rect x="476.10" y="501.10" width="9.60" height="10.10" fill="#7e8388"/>
<text x="488.80" y="510.70" font-size="12" fill="#222" stroke="#222" stroke-width="0.28">Ik +/-</text>
<rect x="476.10" y="521.30" width="9.60" height="10.40" fill="#c3c6cb"/>
<text x="488.80" y="531.20" font-size="12" fill="#222" stroke="#222" stroke-width="0.28">Ik -/-</text>
<line x1="313.80" y1="573.20" x2="455.10" y2="573.20" stroke="#8f8f8f" stroke-width="1"/>
<line x1="310.80" y1="573.20" x2="313.80" y2="573.20" stroke="#8f8f8f" stroke-width="1"/>
<line x1="313.80" y1="599.60" x2="455.10" y2="599.60" stroke="#8f8f8f" stroke-width="1"/>
<line x1="310.80" y1="599.60" x2="313.80" y2="599.60" stroke="#8f8f8f" stroke-width="1"/>
<line x1="313.80" y1="626.10" x2="455.10" y2="626.10" stroke="#8f8f8f" stroke-width="1"/>
<line x1="310.80" y1="626.10" x2="313.80" y2="626.10" stroke="#8f8f8f" stroke-width="1"/>
<line x1="313.80" y1="652.50" x2="455.10" y2="652.50" stroke="#8f8f8f" stroke-width="1"/>
<line x1="310.80" y1="652.50" x2="313.80" y2="652.50" stroke="#8f8f8f" stroke-width="1"/>
<line x1="313.80" y1="573.20" x2="313.80" y2="652.50" stroke="#8f8f8f" stroke-width="1"/>
<text x="305.80" y="577.32" font-size="8.4" text-anchor="end" fill="#333" stroke="#333" stroke-width="0.28">15</text>
<text x="305.80" y="603.72" font-size="8.4" text-anchor="end" fill="#333" stroke="#333" stroke-width="0.28">10</text>
<text x="305.80" y="630.22" font-size="8.4" text-anchor="end" fill="#333" stroke="#333" stroke-width="0.28">5</text>
<text x="305.80" y="656.62" font-size="8.4" text-anchor="end" fill="#333" stroke="#333" stroke-width="0.28">0</text>
<line x1="384.40" y1="652.50" x2="384.40" y2="655.50" stroke="#8f8f8f" stroke-width="1"/>
<rect x="326.25" y="647.50" width="14.50" height="5.00" fill="#231f20"/>
<line x1="333.50" y1="647.50" x2="333.50" y2="646.50" stroke="#333" stroke-width="1.15"/>
<line x1="331.40" y1="646.50" x2="335.60" y2="646.50" stroke="#333" stroke-width="1.3"/>
<rect x="341.25" y="643.25" width="15.00" height="9.25" fill="#6c7175"/>
<line x1="348.50" y1="643.25" x2="348.50" y2="637.50" stroke="#333" stroke-width="1.15"/>
<line x1="346.40" y1="637.50" x2="350.60" y2="637.50" stroke="#333" stroke-width="1.3"/>
<rect x="357.00" y="642.50" width="15.00" height="10.00" fill="#c0c4c8"/>
<line x1="364.50" y1="642.50" x2="364.50" y2="641.50" stroke="#333" stroke-width="1.15"/>
<line x1="362.40" y1="641.50" x2="366.60" y2="641.50" stroke="#333" stroke-width="1.3"/>
<rect x="396.00" y="627.80" width="15.20" height="24.70" fill="#231f20"/>
<line x1="403.50" y1="627.80" x2="403.50" y2="617.70" stroke="#333" stroke-width="1.15"/>
<line x1="401.40" y1="617.70" x2="405.60" y2="617.70" stroke="#333" stroke-width="1.3"/>
<rect x="411.80" y="627.20" width="15.00" height="25.30" fill="#6c7175"/>
<line x1="419.50" y1="627.20" x2="419.50" y2="618.60" stroke="#333" stroke-width="1.15"/>
<line x1="417.40" y1="618.60" x2="421.60" y2="618.60" stroke="#333" stroke-width="1.3"/>
<rect x="427.10" y="629.20" width="15.00" height="23.30" fill="#c0c4c8"/>
<line x1="434.50" y1="629.20" x2="434.50" y2="622.90" stroke="#333" stroke-width="1.15"/>
<line x1="432.40" y1="622.90" x2="436.60" y2="622.90" stroke="#333" stroke-width="1.3"/>
<text x="354.00" y="667.10" font-size="10.6" font-weight="bold" text-anchor="middle" fill="#000" textLength="16.8" lengthAdjust="spacingAndGlyphs">Wt</text>
<text x="420.20" y="667.10" font-size="10.6" font-weight="bold" text-anchor="middle" fill="#000" textLength="36.5" lengthAdjust="spacingAndGlyphs">G1KD</text>
<text transform="translate(276.50,609.40) rotate(-90)" font-size="13.6" text-anchor="middle" fill="#222" textLength="54" lengthAdjust="spacingAndGlyphs" stroke="#222" stroke-width="0.28">Percent of</text>
<text transform="translate(290.90,608.70) rotate(-90)" font-size="13.4" text-anchor="middle" fill="#222" textLength="76.3" lengthAdjust="spacingAndGlyphs" stroke="#222" stroke-width="0.28">CD41+/CD42+</text>
<rect x="476.70" y="590.30" width="9.60" height="10.10" fill="#111"/>
<text x="489.40" y="599.90" font-size="12" fill="#222" stroke="#222" stroke-width="0.28">Ik +/+</text>
<rect x="476.70" y="610.50" width="9.60" height="10.60" fill="#7e8388"/>
<text x="489.40" y="620.60" font-size="12" fill="#222" stroke="#222" stroke-width="0.28">Ik +/-</text>
<rect x="476.70" y="630.70" width="9.60" height="10.10" fill="#c3c6cb"/>
<text x="489.40" y="640.30" font-size="12" fill="#222" stroke="#222" stroke-width="0.28">Ik -/-</text>
<text x="0.80" y="458.30" font-size="12.5" font-weight="bold" fill="#000" textLength="7.6" lengthAdjust="spacingAndGlyphs">E</text>
<text x="85.90" y="458.30" font-size="11.5" font-weight="bold" text-anchor="middle" fill="#000" textLength="69.2" lengthAdjust="spacingAndGlyphs">G1KD-Ik+/-</text>
<text x="181.30" y="458.30" font-size="11.5" font-weight="bold" text-anchor="middle" fill="#000" textLength="64.1" lengthAdjust="spacingAndGlyphs">G1KD-Ik-/-</text>
<defs><filter id="fbl" x="-20%" y="-20%" width="140%" height="140%"><feGaussianBlur stdDeviation="0.7"/></filter></defs>
<clipPath id="fc1"><rect x="44" y="464" width="72.5" height="74.5"/></clipPath>
<g clip-path="url(#fc1)">
<path d="M64.9 494.4h.8M85.4 497.1h.8M77.3 532.6h.8M83.5 530.6h.8M53.8 540.4h.8M55.1 490.5h.8M44.1 490.1h.8M82.6 525.7h.8M42.4 494.8h.8M81.5 527.7h.8M80.4 495.1h.8M48.8 494.6h.8M48.4 495.2h.8M72.5 536.7h.8M85.3 517.2h.8M77.5 493.5h.8M82.4 525.6h.8M45.3 492.1h.8M79.6 494.5h.8M79.9 525.6h.8M80.4 534.9h.8M81.0 495.5h.8M78.5 498.0h.8M85.0 489.6h.8M81.2 532.6h.8M87.2 502.6h.8M42.5 490.6h.8M70.7 538.9h.8M56.5 543.8h.8M72.3 496.1h.8M43.7 498.1h.8M62.3 493.7h.8M92.3 509.3h.8M87.5 528.3h.8M54.5 538.1h.8M90.9 502.2h.8M65.8 539.2h.8M80.0 538.3h.8M64.6 539.8h.8M48.3 492.8h.8M83.0 497.6h.8M81.2 522.5h.8M72.2 488.2h.8M72.4 541.1h.8M52.3 540.2h.8M84.9 517.3h.8M82.1 528.3h.8M77.3 540.2h.8M78.9 547.6h.8M92.8 521.1h.8M80.2 533.4h.8M44.4 489.5h.8M50.0 495.5h.8M41.8 498.4h.8M64.6 543.7h.8M84.4 518.4h.8M70.2 493.0h.8M79.2 537.9h.8M41.4 498.0h.8M73.3 538.5h.8M80.3 498.6h.8M79.4 542.2h.8M67.7 542.7h.8M82.4 534.2h.8M89.5 497.7h.8M72.3 539.3h.8M38.8 491.5h.8M80.0 544.3h.8M71.6 539.8h.8M84.3 526.5h.8M48.0 489.6h.8M69.4 537.5h.8M75.7 496.2h.8M77.8 535.5h.8M79.9 537.7h.8M84.8 512.8h.8M90.6 512.1h.8M75.0 547.6h.8M60.9 538.7h.8M60.2 537.8h.8M82.3 531.7h.8M47.7 494.7h.8M85.2 493.2h.8M73.4 491.5h.8M65.9 538.9h.8M82.9 500.1h.8M51.1 541.4h.8M56.1 494.9h.8M44.9 493.9h.8M39.1 489.9h.8M84.2 496.3h.8M60.4 493.7h.8M59.3 539.1h.8M91.6 510.8h.8M53.9 493.5h.8M69.1 495.6h.8M78.8 546.4h.8M70.5 491.8h.8M92.5 494.5h.8M79.4 530.2h.8M88.2 506.9h.8M79.2 531.0h.8M48.3 493.7h.8M85.0 516.7h.8M81.6 522.0h.8M73.8 493.7h.8M59.9 493.6h.8M76.2 538.1h.8M77.5 495.0h.8M63.2 542.8h.8M40.4 488.8h.8M46.5 494.4h.8M66.5 496.5h.8M70.5 494.8h.8M53.0 537.5h.8M73.5 539.4h.8M79.3 497.3h.8M77.4 538.5h.8M82.1 490.0h.8M56.8 540.2h.8M85.1 519.1h.8M67.3 541.5h.8M90.4 507.9h.8M56.6 545.6h.8M51.1 491.1h.8M93.3 500.9h.8M89.9 505.0h.8M89.2 506.3h.8M86.0 524.0h.8M86.0 495.9h.8M45.3 495.6h.8M48.0 492.5h.8M69.9 540.2h.8M69.6 492.8h.8M79.1 538.1h.8M83.5 516.7h.8M86.6 511.7h.8M77.0 497.3h.8M51.8 540.9h.8M82.0 525.2h.8M77.7 488.9h.8M58.8 492.1h.8M52.2 542.5h.8M88.5 502.9h.8M77.9 537.5h.8M88.9 506.9h.8M42.6 491.2h.8M76.0 495.9h.8M87.4 508.2h.8M44.6 499.2h.8M88.6 510.1h.8M78.4 493.5h.8M51.6 540.7h.8M88.5 510.5h.8M49.1 539.8h.8M78.2 531.9h.8M42.4 498.0h.8M81.8 496.3h.8M56.1 491.5h.8M70.4 489.7h.8M79.4 494.1h.8M63.6 543.6h.8M95.3 517.3h.8M87.8 511.2h.8M89.2 502.5h.8M61.0 544.9h.8M64.5 491.4h.8M73.2 539.2h.8M59.6 494.1h.8M48.4 493.5h.8M56.7 494.2h.8M89.5 509.1h.8M63.3 538.6h.8M88.9 517.9h.8M67.0 538.6h.8M82.2 492.7h.8M52.6 489.0h.8M85.0 500.4h.8M69.0 539.1h.8M82.7 532.5h.8M87.4 500.4h.8M41.1 492.5h.8M49.9 542.6h.8M56.4 494.7h.8M61.8 492.7h.8M49.8 492.7h.8M80.1 497.8h.8M43.9 496.5h.8M83.3 522.4h.8M62.7 493.1h.8M70.6 494.0h.8M81.4 499.3h.8M58.4 494.6h.8M88.2 518.9h.8M89.5 503.0h.8M81.8 498.9h.8M80.3 534.6h.8M60.1 492.6h.8M53.4 543.1h.8M48.6 490.8h.8M43.8 493.5h.8M40.8 498.4h.8M92.4 501.3h.8M63.4 543.7h.8M81.1 527.5h.8M90.1 506.2h.8M51.1 492.5h.8M63.0 494.8h.8M78.0 496.1h.8M62.1 541.2h.8M43.4 497.5h.8M72.9 539.1h.8M49.3 541.6h.8M50.9 545.7h.8M88.6 495.7h.8M74.4 542.4h.8M89.5 504.9h.8M82.9 497.9h.8M55.8 493.2h.8M91.5 498.7h.8M38.1 494.0h.8M81.1 528.6h.8M55.6 539.6h.8M57.0 539.0h.8M84.3 519.6h.8M91.4 504.8h.8M89.2 507.1h.8M96.4 505.4h.8M89.5 504.4h.8M91.5 510.0h.8M73.9 538.1h.8M66.4 545.1h.8M64.3 539.5h.8M82.6 499.0h.8M42.5 492.8h.8M84.2 495.5h.8M55.3 494.7h.8M72.4 542.6h.8M51.8 489.2h.8M52.7 490.3h.8M58.5 540.6h.8M89.2 502.1h.8M79.1 532.7h.8M66.0 487.1h.8M80.1 540.5h.8M56.3 494.1h.8M72.0 492.4h.8M44.5 500.1h.8M95.6 505.6h.8M60.0 493.8h.8M78.7 541.1h.8M88.5 504.4h.8M65.4 491.8h.8M45.4 489.9h.8M95.9 503.3h.8M49.5 540.4h.8M71.6 494.5h.8M83.1 524.9h.8M70.0 485.3h.8M49.4 544.9h.8M84.8 498.3h.8M53.4 492.2h.8M73.4 542.4h.8M72.4 538.6h.8M82.1 528.6h.8M87.1 523.2h.8M86.0 511.2h.8M87.6 498.1h.8M47.0 492.8h.8M55.6 539.8h.8M85.1 524.1h.8M68.8 539.3h.8M53.0 493.2h.8M94.4 513.4h.8M65.8 494.7h.8M60.5 481.6h.8M84.4 498.5h.8M87.9 523.6h.8M87.0 521.7h.8M63.0 541.1h.8M79.8 498.8h.8M39.9 492.4h.8M76.3 537.7h.8M80.4 536.0h.8M56.2 538.4h.8M87.2 531.1h.8M49.1 541.5h.8M80.3 499.8h.8M77.9 533.1h.8M80.7 533.2h.8M79.8 496.7h.8M82.7 521.8h.8M70.9 539.7h.8M87.2 501.6h.8M56.4 539.0h.8M51.6 494.1h.8M56.0 495.9h.8M78.3 536.8h.8M68.9 491.0h.8M89.4 505.6h.8M47.9 542.5h.8M86.3 515.2h.8M64.3 542.1h.8M69.0 537.8h.8M71.1 492.8h.8M82.7 498.4h.8M79.7 494.4h.8M70.7 544.9h.8M48.3 489.5h.8M51.3 537.3h.8M87.5 510.3h.8M76.8 536.7h.8M69.4 488.3h.8M48.5 494.0h.8M40.6 497.4h.8M58.2 540.9h.8M88.7 496.9h.8M63.9 493.1h.8M54.1 544.0h.8M80.1 525.5h.8M87.4 516.8h.8M84.0 526.5h.8M69.6 495.5h.8M87.4 509.5h.8M61.7 489.9h.8M58.8 483.9h.8M63.1 537.9h.8M83.4 522.3h.8M60.5 490.8h.8M88.6 505.7h.8M84.3 496.2h.8M42.7 495.2h.8M77.5 489.4h.8M88.0 531.4h.8M47.0 494.2h.8M59.1 540.2h.8M62.1 541.4h.8M77.4 492.5h.8M88.7 502.2h.8M73.9 537.9h.8M92.3 496.7h.8M66.6 545.3h.8M84.0 499.3h.8M49.3 540.9h.8M73.7 548.1h.8M79.1 533.2h.8M68.6 539.6h.8M83.5 517.3h.8M88.5 501.8h.8M58.8 491.6h.8M62.7 495.4h.8M72.2 539.0h.8M65.4 494.0h.8M76.6 533.2h.8M68.9 538.5h.8M88.3 504.7h.8M80.5 539.2h.8M85.6 514.0h.8M75.9 541.2h.8M39.8 493.1h.8M79.6 526.9h.8M81.4 529.0h.8M88.0 505.6h.8M83.4 520.3h.8M50.6 541.5h.8M78.6 535.9h.8M56.1 541.8h.8M93.2 516.8h.8M75.6 497.4h.8M43.0 493.6h.8M92.1 497.5h.8M63.3 542.5h.8M78.9 539.7h.8M44.8 499.3h.8M81.1 532.8h.8M85.1 522.4h.8M40.4 495.6h.8M93.9 504.9h.8M71.1 493.1h.8M61.8 540.4h.8M74.7 538.0h.8M91.0 513.8h.8M44.5 496.4h.8M85.2 517.1h.8M80.8 523.5h.8M86.6 523.1h.8M66.6 539.8h.8M81.2 540.3h.8M56.7 540.0h.8M57.7 541.2h.8M59.6 539.0h.8M82.0 522.3h.8M59.6 540.1h.8M58.3 542.6h.8M62.1 541.2h.8M88.0 511.6h.8M87.2 497.9h.8M73.3 539.2h.8M67.7 494.4h.8M80.6 535.1h.8M81.0 533.7h.8M49.8 492.9h.8M79.0 539.0h.8M85.8 526.0h.8M87.7 513.3h.8M54.7 539.4h.8M46.8 494.3h.8M77.2 540.1h.8M45.2 543.5h.8M84.0 520.8h.8M47.7 543.3h.8M63.7 539.5h.8M78.8 495.0h.8M75.5 494.6h.8M86.9 501.0h.8M55.3 493.2h.8M78.2 539.7h.8M85.6 514.4h.8M78.2 536.5h.8M68.8 492.5h.8M55.1 543.0h.8M93.0 496.7h.8M64.1 539.2h.8M78.9 497.6h.8M70.2 543.5h.8M71.8 494.6h.8M92.2 508.5h.8M81.9 494.8h.8M46.6 493.2h.8M59.1 544.6h.8M86.0 507.8h.8M84.7 525.0h.8M75.6 487.1h.8M59.6 542.9h.8M69.3 494.7h.8M85.5 528.7h.8M63.3 541.3h.8M84.4 502.1h.8M75.9 538.8h.8M64.1 494.4h.8M65.8 493.8h.8M86.4 513.4h.8M80.7 499.7h.8M86.5 506.5h.8M59.1 493.1h.8M83.9 520.7h.8M81.2 539.5h.8M57.9 492.8h.8M75.5 489.3h.8M53.1 493.8h.8M64.8 545.7h.8M78.0 495.7h.8M47.9 494.3h.8M62.4 539.6h.8M87.5 511.2h.8M62.6 494.3h.8M47.1 541.4h.8M57.8 494.6h.8M86.7 521.3h.8M79.1 535.2h.8M85.6 517.0h.8M88.1 491.4h.8M95.5 519.5h.8M93.7 521.5h.8M93.1 507.5h.8M95.7 514.6h.8M93.0 502.0h.8M92.5 514.4h.8M86.9 505.9h.8M89.5 515.1h.8M88.3 502.0h.8M92.4 500.6h.8M93.9 504.8h.8M90.8 528.3h.8M78.8 499.1h.8M88.9 513.3h.8M86.8 503.8h.8M88.3 503.0h.8M92.6 506.8h.8M91.0 515.5h.8M96.0 507.5h.8M89.5 520.0h.8M79.2 515.7h.8M86.7 525.3h.8M90.1 504.6h.8M98.2 508.5h.8M86.8 520.4h.8M80.6 512.9h.8M96.2 500.1h.8M97.6 511.4h.8M88.7 495.2h.8M100.3 530.8h.8M90.0 519.3h.8M80.7 515.8h.8M94.2 506.0h.8M88.2 512.6h.8M87.1 495.0h.8M96.4 525.2h.8M95.4 523.5h.8M98.1 511.2h.8M74.4 515.1h.8M88.7 501.2h.8M94.9 502.9h.8M84.9 543.3h.8M89.6 516.8h.8M95.4 522.0h.8M91.3 520.9h.8M91.4 509.6h.8M90.4 522.2h.8M96.0 520.1h.8M83.0 512.3h.8M95.0 510.3h.8M94.9 516.3h.8M99.0 487.9h.8M93.0 527.5h.8M96.0 508.9h.8M90.7 510.8h.8M94.5 523.7h.8M88.6 527.5h.8M94.7 490.3h.8M89.7 513.4h.8M88.0 516.0h.8M91.7 513.9h.8M90.3 518.3h.8M88.5 521.4h.8M81.5 515.8h.8M89.1 510.4h.8M93.7 507.5h.8M73.2 497.7h.8M90.8 511.7h.8M89.1 507.3h.8M96.0 515.0h.8M85.8 504.8h.8M97.6 516.2h.8M94.1 515.2h.8M93.2 508.6h.8M86.2 503.4h.8M86.8 535.8h.8M95.7 515.6h.8M91.3 495.9h.8M96.5 494.5h.8M98.0 509.0h.8M83.7 532.3h.8M86.2 511.8h.8M91.0 497.4h.8M94.6 499.3h.8M90.8 501.5h.8M101.3 515.5h.8M100.6 508.7h.8M93.3 521.3h.8M92.4 511.8h.8M98.6 519.4h.8M92.4 524.7h.8M75.9 502.7h.8M94.8 510.7h.8M90.4 497.6h.8M89.8 531.2h.8M89.0 503.2h.8M90.3 527.4h.8M88.2 495.7h.8M93.4 510.9h.8M92.9 494.8h.8M85.4 511.3h.8M94.0 535.6h.8M100.0 528.4h.8M97.6 527.3h.8M95.8 522.4h.8M89.7 509.2h.8M99.7 501.2h.8M88.6 512.3h.8M93.1 507.0h.8M89.3 505.6h.8M87.6 510.4h.8M111.7 501.1h.8M106.4 500.3h.8M93.0 514.1h.8M95.7 511.4h.8M85.6 508.4h.8M90.1 497.4h.8M91.4 516.1h.8M83.1 499.4h.8M96.7 503.8h.8M88.1 508.0h.8M88.3 521.3h.8M93.3 540.0h.8M89.8 519.3h.8M87.9 526.2h.8M83.0 505.1h.8M90.7 547.9h.8M105.0 538.4h.8M91.9 496.7h.8M95.2 527.7h.8M88.0 538.2h.8M103.6 495.0h.8M89.6 511.8h.8M90.5 513.2h.8M92.2 511.9h.8M107.2 509.4h.8M84.8 528.9h.8M97.9 501.5h.8M86.7 504.6h.8M79.3 499.4h.8M94.7 499.3h.8M90.5 511.7h.8M88.5 520.6h.8M93.0 529.7h.8M94.0 507.9h.8M101.9 518.6h.8M94.9 518.5h.8M90.1 503.9h.8M99.3 506.3h.8M90.2 525.4h.8M97.9 515.3h.8M103.8 512.4h.8M105.9 531.3h.8M93.1 512.3h.8M98.7 494.9h.8M96.2 523.1h.8M101.4 531.7h.8M93.8 520.7h.8M86.3 521.6h.8M59.4 493.3h.8M94.3 508.8h.8M68.5 501.5h.8M103.2 493.3h.8M91.1 498.5h.8M78.8 499.6h.8M91.4 506.0h.8M67.8 505.9h.8M83.3 507.0h.8M55.5 504.3h.8M70.1 501.3h.8M48.5 510.7h.8M69.3 502.3h.8M49.6 499.0h.8M72.5 500.6h.8M54.6 501.8h.8M64.4 504.5h.8M54.2 505.9h.8M55.7 494.5h.8M76.6 503.0h.8M76.0 497.2h.8M66.0 495.5h.8M85.6 491.2h.8M53.4 494.2h.8M77.2 492.6h.8M81.1 491.5h.8M46.0 501.6h.8M75.7 498.2h.8M88.7 497.8h.8M62.8 499.1h.8M88.7 499.2h.8M96.2 506.8h.8M85.2 504.5h.8M88.2 502.4h.8M37.1 500.9h.8M68.2 494.2h.8M43.9 500.7h.8M54.7 500.0h.8M58.6 501.7h.8M56.5 501.2h.8M69.4 497.7h.8M66.3 501.3h.8M33.0 490.4h.8M71.4 500.1h.8M73.3 501.7h.8M56.4 506.5h.8M80.5 501.7h.8M66.6 496.5h.8M61.7 501.9h.8M71.4 504.1h.8M73.4 497.8h.8M86.2 492.9h.8M51.2 501.9h.8M63.3 492.9h.8M49.4 500.0h.8M89.0 507.1h.8M68.5 498.7h.8M58.5 509.4h.8M68.8 498.1h.8M80.6 505.7h.8M70.5 506.1h.8M52.5 502.2h.8M78.3 502.1h.8M79.2 500.9h.8M78.0 489.5h.8M59.8 504.3h.8M54.6 495.6h.8M98.0 500.3h.8M73.8 501.9h.8M94.2 498.7h.8M58.5 501.3h.8M89.6 491.1h.8M68.2 498.0h.8M72.0 503.3h.8M74.3 492.2h.8M66.7 499.3h.8M69.3 505.3h.8M65.5 496.8h.8M67.7 500.1h.8M79.7 491.4h.8" stroke="#222" stroke-width="0.8" fill="none" opacity="0.85"/>
<path d="M44.5,496.5C45.6,489.2 48.5,494.5 51.3,494.3C54.1,494.1 57.6,494.7 61.1,495.1C64.7,495.5 68.8,495.9 72.6,496.8C76.4,497.8 81.5,499.4 84.0,500.8C86.5,502.2 87.2,502.8 87.3,505.0C87.4,507.2 85.7,510.6 84.5,514.0C83.3,517.4 81.3,521.6 80.0,525.4C78.7,529.2 79.8,534.6 76.5,536.8C73.2,539.0 65.3,538.3 60.0,538.5C54.7,538.7 47.1,545.0 44.5,538.0C41.9,531.0 43.4,503.8 44.5,496.5Z" fill="#d8d8d8" stroke="#333" stroke-width="0.9"/>
<path d="M55.8 509.7h.9M56.8 495.6h.9M44.9 528.8h.9M47.8 514.3h.9M57.5 505.2h.9M81.7 502.8h.9M52.8 534.3h.9M71.2 524.6h.9M54.2 515.3h.9M44.9 500.4h.9M45.2 500.4h.9M67.6 502.9h.9M44.8 506.7h.9M55.6 518.3h.9M81.9 517.7h.9M67.3 506.6h.9M52.2 515.5h.9M61.4 534.2h.9M53.4 495.4h.9M46.7 508.3h.9M53.9 511.8h.9M69.9 531.1h.9M74.0 500.1h.9M62.1 511.5h.9M56.1 496.3h.9M52.8 525.5h.9M45.5 519.5h.9M52.7 517.3h.9M67.3 501.5h.9M48.3 515.5h.9M46.8 531.5h.9M46.2 520.3h.9M64.8 502.0h.9M79.5 519.3h.9M59.0 515.3h.9M66.4 510.5h.9M79.5 520.0h.9M80.7 513.9h.9M84.8 510.0h.9M60.6 521.7h.9M49.0 524.7h.9M70.2 529.9h.9M47.7 512.8h.9M69.6 497.0h.9M77.1 534.1h.9M71.3 528.1h.9M66.4 533.6h.9M73.5 506.5h.9M69.7 528.2h.9M80.6 500.0h.9M51.7 524.7h.9M75.1 526.5h.9M65.4 511.3h.9M85.6 505.6h.9M56.8 495.4h.9M48.1 521.9h.9M72.9 504.0h.9M76.2 501.8h.9M60.4 522.4h.9M77.8 514.3h.9M79.1 515.2h.9M72.9 531.1h.9M68.6 519.2h.9M57.8 518.1h.9M70.9 524.4h.9M45.2 532.9h.9M54.7 537.1h.9M59.3 531.6h.9M66.4 511.7h.9M61.4 502.0h.9M44.7 518.1h.9M71.0 501.5h.9M80.3 504.1h.9M80.4 521.1h.9M75.1 512.4h.9M66.4 506.3h.9M58.9 535.2h.9M47.9 531.1h.9M76.6 501.5h.9M62.9 531.2h.9M66.3 516.7h.9M66.1 501.9h.9M56.7 509.7h.9M74.8 532.8h.9M68.1 507.0h.9M59.9 518.4h.9M54.2 495.2h.9M72.6 505.9h.9M82.0 501.4h.9M55.3 495.0h.9M51.0 511.3h.9M51.9 498.5h.9M68.0 523.2h.9M46.7 515.2h.9M76.2 503.5h.9M70.0 499.2h.9M84.6 511.5h.9M48.0 530.4h.9M63.4 509.7h.9M62.8 525.6h.9M75.7 513.6h.9M55.9 501.0h.9M46.8 536.8h.9M69.9 537.3h.9M69.1 537.2h.9M50.7 526.1h.9M53.2 536.1h.9M54.5 521.6h.9M77.6 507.5h.9M80.9 500.4h.9M61.6 515.9h.9M47.7 510.6h.9M51.2 534.5h.9M63.5 520.3h.9M62.7 532.3h.9M48.0 521.3h.9M68.3 515.1h.9M52.0 494.7h.9M45.5 506.6h.9M75.3 512.1h.9M67.7 506.3h.9M55.8 511.3h.9M49.0 511.8h.9M54.8 526.4h.9M57.9 524.6h.9M45.6 525.5h.9M71.8 507.1h.9M77.5 532.5h.9M63.3 520.1h.9M77.1 508.3h.9M74.2 527.8h.9M46.7 530.2h.9M63.6 524.6h.9M72.4 513.0h.9M76.0 532.2h.9M70.0 528.0h.9M59.4 512.2h.9M46.2 535.3h.9M79.1 517.1h.9M70.7 530.7h.9M51.6 519.5h.9M75.4 520.1h.9M86.3 505.6h.9M73.6 528.7h.9M61.2 535.9h.9M62.1 500.8h.9M51.8 511.7h.9M66.0 522.7h.9M70.4 536.5h.9M61.3 511.6h.9M75.7 529.8h.9M76.1 501.4h.9M71.6 506.2h.9M56.2 505.6h.9M44.9 499.6h.9M73.3 529.5h.9M49.1 536.1h.9M64.4 528.9h.9M46.3 497.8h.9M46.1 523.4h.9M46.4 512.6h.9M79.4 499.3h.9M79.7 501.3h.9M69.1 533.0h.9M81.5 501.9h.9M80.0 511.9h.9M66.4 529.5h.9M73.1 508.7h.9M45.1 519.7h.9M48.8 498.2h.9M56.5 507.8h.9M78.1 514.6h.9M49.5 536.9h.9M54.1 522.6h.9M77.8 516.8h.9M60.2 525.7h.9M48.5 513.3h.9M73.3 506.4h.9M60.5 527.9h.9M53.5 535.1h.9M50.5 504.2h.9M70.8 504.5h.9M80.5 510.2h.9M49.9 523.9h.9M62.8 521.9h.9M49.3 496.6h.9M57.1 517.1h.9M53.0 503.5h.9M80.3 505.0h.9M59.4 532.8h.9M50.5 528.1h.9M48.4 529.6h.9M56.3 504.0h.9M62.7 500.6h.9M73.0 530.7h.9M73.0 529.5h.9M51.4 506.3h.9M80.3 508.7h.9M76.5 519.4h.9M50.9 504.1h.9M45.2 535.7h.9M78.7 525.1h.9M55.6 534.5h.9M47.6 524.7h.9M74.0 510.7h.9M79.3 502.7h.9M59.0 508.9h.9M78.5 509.5h.9M69.7 524.8h.9M56.3 509.9h.9M47.7 529.9h.9M80.7 504.2h.9M64.7 509.6h.9M56.6 495.6h.9M70.0 536.3h.9M51.8 527.6h.9M77.6 518.0h.9M80.8 513.0h.9M71.1 497.3h.9M51.0 520.2h.9M80.5 515.3h.9M62.1 528.9h.9M72.7 503.8h.9M57.7 518.9h.9M46.0 507.5h.9M78.2 505.4h.9M72.2 507.7h.9M50.2 509.0h.9M58.2 506.6h.9M57.8 534.9h.9M69.1 516.3h.9M55.8 507.1h.9M78.7 509.1h.9M50.9 511.4h.9M73.3 535.9h.9M80.2 516.2h.9M51.7 533.5h.9M46.2 520.1h.9M86.1 508.3h.9M66.9 507.8h.9M62.3 499.1h.9M70.9 525.3h.9M50.0 494.8h.9M54.8 510.0h.9M63.1 525.8h.9M45.3 513.9h.9M51.7 530.0h.9M76.4 529.8h.9M70.9 503.6h.9M78.4 507.1h.9M51.6 496.0h.9M61.2 536.5h.9M73.8 523.5h.9M60.8 513.6h.9M58.8 520.3h.9M65.3 503.3h.9M66.4 498.2h.9M78.6 512.2h.9M72.5 528.8h.9M54.6 536.2h.9M47.6 522.6h.9M73.5 503.9h.9M77.8 506.8h.9M55.6 498.1h.9M71.0 527.7h.9M74.2 507.8h.9M57.2 496.7h.9M52.0 505.5h.9M53.4 496.2h.9M60.8 498.6h.9M51.4 525.1h.9M47.6 528.8h.9M73.6 522.6h.9M67.2 526.2h.9M53.9 512.3h.9M62.3 521.6h.9M46.8 534.8h.9M61.4 512.6h.9M51.3 498.3h.9M63.8 518.4h.9M52.7 520.6h.9M79.6 505.2h.9M57.0 505.7h.9M71.6 510.3h.9M75.5 516.4h.9M53.9 532.3h.9M53.9 501.8h.9M58.3 501.5h.9M72.1 521.2h.9M61.1 505.7h.9M71.7 510.9h.9M77.4 532.5h.9M75.3 535.8h.9M57.4 531.9h.9M61.9 532.2h.9M70.9 507.0h.9M56.5 532.2h.9M65.2 501.0h.9M69.3 500.6h.9M47.1 505.8h.9M77.7 503.5h.9M73.9 521.5h.9M78.1 530.3h.9M83.4 513.0h.9M60.2 521.2h.9M65.3 502.9h.9M63.0 511.6h.9M75.6 525.5h.9M74.7 499.7h.9M70.5 499.3h.9M54.3 524.7h.9M60.9 524.6h.9M53.9 498.5h.9M59.3 516.7h.9M60.7 536.0h.9M68.6 502.4h.9M66.1 524.4h.9M77.2 499.6h.9M44.7 506.9h.9M57.8 524.3h.9M50.0 526.0h.9M69.7 506.2h.9M52.8 528.1h.9M70.3 503.9h.9M61.3 531.8h.9M51.9 497.1h.9M65.8 503.3h.9M73.7 505.1h.9M52.6 521.4h.9M76.7 519.7h.9M60.4 497.8h.9M67.1 502.2h.9M68.8 513.5h.9M68.3 519.7h.9M68.5 535.3h.9M68.2 499.5h.9M60.2 513.9h.9M68.6 511.6h.9M46.7 534.9h.9M64.3 523.6h.9M64.5 510.8h.9M51.2 503.2h.9M64.9 506.8h.9M53.4 521.2h.9M56.6 531.1h.9M48.3 504.3h.9M62.7 503.8h.9M80.3 516.1h.9M47.1 503.3h.9M74.4 508.0h.9M57.3 503.6h.9M45.0 527.8h.9M58.4 505.1h.9M49.0 516.6h.9M76.1 536.2h.9M65.7 515.7h.9M68.0 513.2h.9M63.2 536.9h.9M71.3 537.0h.9M72.5 503.1h.9M80.8 500.3h.9M80.5 502.2h.9M50.8 505.4h.9M66.1 524.9h.9M66.4 497.4h.9M60.2 496.0h.9M62.0 536.9h.9M52.9 537.5h.9M59.0 525.1h.9M78.9 521.4h.9M79.1 504.7h.9M83.2 503.7h.9M49.8 528.3h.9M71.2 498.2h.9M67.1 502.2h.9M67.6 512.4h.9M50.5 518.3h.9M78.4 525.9h.9M50.5 535.7h.9M84.4 510.2h.9M61.6 531.5h.9M48.2 511.7h.9M44.9 503.7h.9M59.7 531.2h.9M71.3 498.5h.9M78.6 527.8h.9M57.6 502.0h.9M76.0 535.7h.9M53.9 508.9h.9M58.7 537.0h.9M52.3 514.7h.9M78.6 517.5h.9M75.2 505.3h.9M56.1 533.3h.9M65.8 511.4h.9M57.6 512.8h.9M55.1 517.2h.9M63.2 506.0h.9M44.7 501.0h.9M77.9 525.6h.9M84.0 500.9h.9M59.5 536.5h.9M68.3 532.8h.9M51.1 500.2h.9M50.4 525.0h.9M85.6 502.9h.9M50.4 533.4h.9M45.9 506.6h.9M50.7 531.2h.9M47.2 514.5h.9M75.2 525.9h.9M57.7 500.2h.9M62.7 510.2h.9M63.7 507.2h.9M64.8 537.4h.9M44.8 504.5h.9M80.8 516.4h.9M78.2 505.1h.9M75.0 529.9h.9M75.9 536.5h.9" stroke="#333" stroke-width="0.9" opacity="0.55"/>
<path d="M46.5,500.0C47.5,493.8 50.4,497.7 52.7,497.3C55.1,497.0 57.5,497.5 60.6,497.9C63.7,498.3 67.9,498.8 71.2,499.6C74.5,500.4 78.2,501.6 80.2,502.8C82.3,504.0 83.5,504.9 83.6,506.9C83.6,508.9 81.6,511.9 80.5,514.8C79.4,517.7 78.1,521.3 77.0,524.5C76.0,527.6 77.1,531.9 74.3,533.7C71.4,535.6 64.5,535.6 59.8,535.7C55.2,535.9 48.7,540.3 46.4,534.4C44.2,528.4 45.4,506.2 46.5,500.0Z" fill="none" stroke="#222" stroke-width="1.4"/>
<path d="M49.6,502.9C50.5,497.9 52.5,501.5 54.4,501.2C56.4,501.0 59.1,501.3 61.4,501.6C63.7,501.9 65.8,502.4 68.3,503.1C70.8,503.7 74.7,504.6 76.5,505.5C78.3,506.4 78.8,506.8 79.0,508.4C79.1,510.0 78.1,512.5 77.2,515.0C76.3,517.5 74.5,520.7 73.5,523.4C72.5,526.0 73.6,529.8 71.4,531.1C69.1,532.5 63.6,531.6 59.8,531.6C56.1,531.6 50.7,536.2 48.9,531.4C47.2,526.6 48.7,507.9 49.6,502.9Z" fill="none" stroke="#444" stroke-width="0.9"/>
<path d="M51.2,505.9C51.8,501.9 53.8,504.3 55.4,504.1C57.0,504.0 59.0,504.8 60.9,505.1C62.7,505.4 64.6,505.5 66.5,506.0C68.5,506.5 71.3,507.5 72.7,508.3C74.0,509.0 74.5,509.3 74.7,510.5C75.0,511.7 74.6,513.7 74.0,515.6C73.4,517.5 71.9,519.7 71.1,521.7C70.2,523.7 70.7,526.7 68.8,527.9C66.8,529.0 62.3,528.7 59.5,528.8C56.7,528.9 53.4,532.4 52.0,528.6C50.7,524.7 50.7,510.0 51.2,505.9Z" fill="none" stroke="#555" stroke-width="0.8"/>
<path d="M54.1,509.3C54.6,506.4 55.4,507.6 56.6,507.5C57.8,507.3 59.6,508.1 61.0,508.3C62.4,508.4 63.5,507.9 65.0,508.4C66.4,508.8 68.9,510.4 69.9,510.9C70.9,511.5 70.9,511.1 71.0,511.8C71.0,512.6 70.6,514.1 70.0,515.4C69.5,516.8 68.4,518.4 67.8,520.0C67.2,521.7 67.9,524.2 66.6,525.1C65.3,526.0 62.3,525.2 60.1,525.2C57.9,525.2 54.5,527.7 53.5,525.1C52.5,522.4 53.6,512.2 54.1,509.3Z" fill="none" stroke="#555" stroke-width="0.8"/>
<path d="M45.0,497.0C47.2,496.1 55.5,495.4 60.0,495.5C64.5,495.6 70.3,496.8 72.0,497.5C73.7,498.2 72.3,499.8 70.0,500.0C67.7,500.2 61.8,498.8 58.0,499.0C54.2,499.2 49.2,501.3 47.0,501.0C44.8,500.7 42.8,497.9 45.0,497.0Z" fill="#000" opacity="0.9" filter="url(#fbl)"/>
<path d="M45.0,500.0C45.5,493.8 47.3,496.7 48.0,500.0C48.7,503.3 49.0,513.8 49.0,520.0C49.0,526.2 48.7,534.2 48.0,537.0C47.3,539.8 45.5,543.2 45.0,537.0C44.5,530.8 44.5,506.2 45.0,500.0Z" fill="#111" opacity="0.8" filter="url(#fbl)"/>
<path d="M60.0,500.0C59.8,496.2 58.8,507.8 59.0,512.0C59.2,516.2 60.8,521.2 61.0,525.0C61.2,528.8 60.2,539.2 60.0,535.0" fill="none" stroke="#111" stroke-width="1.5" stroke-linecap="round" filter="url(#fbl)"/>
<path d="M64.0,505.0C63.3,504.2 68.3,501.7 70.0,502.0C71.7,502.3 75.0,506.5 74.0,507.0" fill="none" stroke="#222" stroke-width="1.2" stroke-linecap="round" filter="url(#fbl)"/>
<path d="M68.0,515.0C67.5,513.8 63.3,522.2 63.0,525.0C62.7,527.8 65.2,533.7 66.0,532.0" fill="none" stroke="#222" stroke-width="1.1" stroke-linecap="round" filter="url(#fbl)"/>
<path d="M52.0,515.0C52.0,515.0 55.0,528.0 55.0,528.0" fill="none" stroke="#333" stroke-width="1.0" stroke-linecap="round" filter="url(#fbl)"/>
<ellipse cx="52" cy="505" rx="3" ry="4" fill="#fff" opacity="0.9" filter="url(#fbl)"/>
<ellipse cx="68" cy="520" rx="2.5" ry="3" fill="#fff" opacity="0.9" filter="url(#fbl)"/>
</g>
<line x1="61.7" y1="464" x2="61.7" y2="538.5" stroke="#4b59a2" stroke-width="1.2"/>
<line x1="44" y1="515.6" x2="116.5" y2="515.6" stroke="#4b59a2" stroke-width="1.2"/>
<rect x="44" y="464" width="72.5" height="74.5" fill="none" stroke="#111" stroke-width="1"/>
<line x1="44" y1="464" x2="44" y2="539.5" stroke="#000" stroke-width="1.5"/>
<line x1="43" y1="538.5" x2="116.5" y2="538.5" stroke="#000" stroke-width="1.5"/>
<path d="M41.0 534.8h3M41.0 519.5h3M41.0 502.7h3M41.0 486.0h3M41.0 469.2h3M48.4 538.5v3M58.5 538.5v3M75.9 538.5v3M92.2 538.5v3M109.2 538.5v3M42.2 530.2h1.8M42.2 527.4h1.8M42.2 525.6h1.8M42.2 524.1h1.8M42.2 522.9h1.8M42.2 521.8h1.8M42.2 521.0h1.8M42.2 520.3h1.8M51.4 538.5v1.8M53.2 538.5v1.8M54.4 538.5v1.8M55.5 538.5v1.8M56.3 538.5v1.8M57.0 538.5v1.8M57.5 538.5v1.8M58.0 538.5v1.8M42.2 514.5h1.8M42.2 511.5h1.8M42.2 509.4h1.8M42.2 507.8h1.8M42.2 506.4h1.8M42.2 505.3h1.8M42.2 504.4h1.8M42.2 503.6h1.8M63.7 538.5v1.8M66.9 538.5v1.8M68.9 538.5v1.8M70.7 538.5v1.8M72.1 538.5v1.8M73.3 538.5v1.8M74.2 538.5v1.8M75.0 538.5v1.8M42.2 497.7h1.8M42.2 494.7h1.8M42.2 492.7h1.8M42.2 491.0h1.8M42.2 489.7h1.8M42.2 488.5h1.8M42.2 487.7h1.8M42.2 486.8h1.8M80.8 538.5v1.8M83.7 538.5v1.8M85.7 538.5v1.8M87.3 538.5v1.8M88.6 538.5v1.8M89.8 538.5v1.8M90.6 538.5v1.8M91.4 538.5v1.8M42.2 480.9h1.8M42.2 477.9h1.8M42.2 475.9h1.8M42.2 474.2h1.8M42.2 472.9h1.8M42.2 471.7h1.8M42.2 470.9h1.8M42.2 470.1h1.8M97.3 538.5v1.8M100.4 538.5v1.8M102.4 538.5v1.8M104.1 538.5v1.8M105.5 538.5v1.8M106.7 538.5v1.8M107.5 538.5v1.8M108.4 538.5v1.8" stroke="#000" stroke-width="0.8"/>
<text x="40" y="537.0" font-size="6.3" fill="#444" text-anchor="end">0</text>
<text x="36.2" y="521.7" font-size="6.3" fill="#444" text-anchor="end">10<tspan font-size="4.2" dy="-2.6">2</tspan></text>
<text x="36.2" y="504.9" font-size="6.3" fill="#444" text-anchor="end">10<tspan font-size="4.2" dy="-2.6">3</tspan></text>
<text x="36.2" y="488.2" font-size="6.3" fill="#444" text-anchor="end">10<tspan font-size="4.2" dy="-2.6">4</tspan></text>
<text x="36.2" y="471.4" font-size="6.3" fill="#444" text-anchor="end">10<tspan font-size="4.2" dy="-2.6">5</tspan></text>
<text x="48.4" y="550.5" font-size="6.3" fill="#444" text-anchor="middle">0</text>
<text x="60.0" y="550.5" font-size="6.3" fill="#444" text-anchor="middle">10<tspan font-size="4.2" dy="-2.6">2</tspan></text>
<text x="77.4" y="550.5" font-size="6.3" fill="#444" text-anchor="middle">10<tspan font-size="4.2" dy="-2.6">3</tspan></text>
<text x="93.7" y="550.5" font-size="6.3" fill="#444" text-anchor="middle">10<tspan font-size="4.2" dy="-2.6">4</tspan></text>
<text x="110.8" y="550.5" font-size="6.3" fill="#444" text-anchor="middle">10<tspan font-size="4.2" dy="-2.6">5</tspan></text>
<text x="45.8" y="471.6" font-size="9.2" fill="#4b59a2">38.4</text>
<text x="115.3" y="471.6" font-size="9.2" fill="#4b59a2" text-anchor="end">24.4</text>
<text x="45.8" y="536.9" font-size="9.2" fill="#4b59a2">18.7</text>
<text x="115.3" y="536.9" font-size="9.2" fill="#4b59a2" text-anchor="end">18.4</text>
<clipPath id="fc2"><rect x="145" y="464.4" width="72.69999999999999" height="74.5"/></clipPath>
<g clip-path="url(#fc2)">
<path d="M144.5 509.1h.8M140.5 509.7h.8M152.1 498.5h.8M153.3 494.0h.8M144.0 529.5h.8M148.1 537.3h.8M158.0 540.0h.8M190.2 502.6h.8M169.6 538.8h.8M168.2 541.4h.8M172.6 539.3h.8M168.3 497.3h.8M185.5 524.2h.8M190.0 518.9h.8M150.9 537.3h.8M146.2 502.7h.8M146.4 510.3h.8M178.7 539.4h.8M186.3 527.2h.8M184.7 500.4h.8M151.2 499.4h.8M146.9 500.2h.8M185.1 530.8h.8M187.7 507.4h.8M193.3 517.4h.8M140.1 518.9h.8M181.8 539.0h.8M174.6 539.4h.8M179.6 494.3h.8M148.6 499.2h.8M188.9 508.5h.8M166.4 498.3h.8M185.9 539.4h.8M140.2 499.5h.8M158.6 539.1h.8M171.5 494.7h.8M145.4 519.4h.8M147.3 533.1h.8M151.0 537.2h.8M145.4 516.3h.8M146.3 539.2h.8M142.5 534.3h.8M190.2 513.6h.8M145.6 505.4h.8M144.2 506.8h.8M169.2 491.5h.8M145.9 538.2h.8M153.5 539.6h.8M184.6 529.2h.8M179.5 539.2h.8M186.6 536.9h.8M141.1 513.5h.8M179.7 534.7h.8M140.8 529.0h.8M191.7 513.3h.8M143.0 519.7h.8M141.0 517.5h.8M188.3 531.5h.8M173.5 540.3h.8M146.0 514.7h.8M149.2 541.1h.8M190.0 538.3h.8M177.6 496.7h.8M191.5 507.1h.8M152.7 541.0h.8M168.6 493.6h.8M145.1 516.0h.8M184.3 500.1h.8M144.9 514.9h.8M187.2 506.3h.8M144.5 509.0h.8M151.5 541.8h.8M183.0 536.8h.8M183.0 540.2h.8M161.1 541.9h.8M172.2 541.8h.8M187.3 507.3h.8M175.5 495.1h.8M181.1 538.1h.8M146.1 512.9h.8M166.5 539.1h.8M153.1 495.3h.8M146.0 528.4h.8M151.5 539.3h.8M145.7 514.7h.8M172.8 491.9h.8M145.4 539.8h.8M153.6 496.1h.8M162.6 540.9h.8M184.5 499.7h.8M177.1 500.3h.8M145.1 522.2h.8M159.4 494.7h.8M179.7 537.2h.8M146.5 522.6h.8M181.3 500.6h.8M174.4 497.6h.8M142.3 520.9h.8M189.3 525.4h.8M149.6 540.8h.8M150.2 499.8h.8M187.0 515.3h.8M169.9 490.1h.8M157.4 546.2h.8M154.9 493.0h.8M145.2 510.3h.8M142.4 494.5h.8M150.3 539.3h.8M145.5 496.6h.8M184.3 495.0h.8M142.8 531.9h.8M166.5 497.8h.8M172.5 492.1h.8M156.5 537.9h.8M190.8 518.0h.8M150.4 497.8h.8M142.2 503.5h.8M166.2 494.5h.8M149.9 499.4h.8M193.6 510.8h.8M166.9 539.2h.8M148.6 538.5h.8M159.8 492.4h.8M185.4 511.1h.8M146.3 495.8h.8M189.0 530.2h.8M144.1 540.0h.8M148.1 537.9h.8M138.2 518.2h.8M144.2 542.1h.8M144.6 524.7h.8M155.1 538.5h.8M184.6 531.0h.8M176.6 498.3h.8M161.7 541.1h.8M186.2 507.8h.8M160.0 495.8h.8M183.9 526.7h.8M147.7 519.8h.8M160.8 491.4h.8M172.0 540.1h.8M188.0 518.7h.8M185.2 542.5h.8M165.4 490.8h.8M141.5 505.4h.8M183.4 499.4h.8M167.9 542.6h.8M188.6 523.5h.8M146.6 498.9h.8M174.0 540.2h.8M164.0 496.2h.8M150.5 497.2h.8M147.4 498.4h.8M168.0 491.6h.8M157.9 496.3h.8M163.1 538.7h.8M184.2 537.1h.8M144.5 504.3h.8M142.3 512.0h.8M147.0 503.7h.8M177.1 499.2h.8M189.5 527.2h.8M181.4 497.6h.8M170.4 538.5h.8M167.2 539.3h.8M143.8 533.2h.8M151.2 542.4h.8M186.2 495.9h.8M186.8 523.3h.8M180.7 538.8h.8M143.3 500.3h.8M149.7 500.4h.8M187.2 522.1h.8M160.3 490.7h.8M147.9 542.4h.8M179.5 498.8h.8M157.5 491.9h.8M170.1 495.1h.8M181.8 492.7h.8M177.2 494.6h.8M181.4 538.8h.8M187.3 534.4h.8M186.0 506.7h.8M163.7 537.4h.8M174.5 499.3h.8M145.3 517.2h.8M143.7 506.6h.8M151.4 538.2h.8M184.7 525.1h.8M182.9 538.4h.8M171.8 543.1h.8M147.9 493.4h.8M191.0 522.8h.8M182.0 536.6h.8M170.8 495.0h.8M157.9 496.8h.8M145.9 530.7h.8M192.0 514.3h.8M183.6 540.8h.8M145.1 514.2h.8M168.5 543.3h.8M183.9 503.4h.8M143.5 503.7h.8M187.4 515.6h.8M147.3 501.3h.8M156.5 539.7h.8M159.3 496.7h.8M186.3 506.3h.8M144.3 527.6h.8M157.9 541.3h.8M143.4 499.6h.8M184.8 528.7h.8M184.9 521.5h.8M185.8 535.1h.8M174.3 495.8h.8M170.9 541.9h.8M153.6 494.7h.8M181.7 504.7h.8M188.7 515.9h.8M142.0 511.3h.8M156.8 497.5h.8M147.0 540.5h.8M173.5 490.8h.8M174.4 539.6h.8M186.1 517.9h.8M185.9 530.1h.8M142.9 542.0h.8M188.3 520.4h.8M162.8 496.7h.8M161.4 491.6h.8M154.9 495.2h.8M141.8 526.7h.8M162.7 538.4h.8M143.7 507.8h.8M156.0 540.0h.8M146.1 498.7h.8M159.5 539.7h.8M146.0 535.9h.8M149.2 540.6h.8M183.4 533.3h.8M194.8 513.8h.8M185.0 528.3h.8M141.3 535.5h.8M183.5 500.6h.8M183.1 542.9h.8M184.6 531.2h.8M142.7 509.8h.8M145.3 531.3h.8M147.0 512.6h.8M145.1 526.2h.8M184.0 505.7h.8M178.2 498.3h.8M185.4 535.7h.8M181.7 501.5h.8M188.6 525.0h.8M156.2 545.4h.8M144.3 513.6h.8M172.9 542.4h.8M146.2 530.5h.8M154.7 492.4h.8M191.4 514.3h.8M147.2 502.9h.8M164.9 498.1h.8M187.2 522.9h.8M154.5 498.4h.8M155.1 491.2h.8M145.6 518.6h.8M147.1 504.5h.8M160.3 546.8h.8M162.0 492.2h.8M185.6 506.2h.8M180.1 494.1h.8M158.4 541.5h.8M157.0 542.2h.8M185.1 526.0h.8M181.1 536.4h.8M159.8 494.5h.8M181.2 544.2h.8M145.2 510.7h.8M145.6 539.7h.8M158.9 497.4h.8M182.6 539.0h.8M150.1 539.3h.8M180.2 501.8h.8M141.0 518.2h.8M186.5 529.6h.8M152.7 541.4h.8M185.6 520.7h.8M147.1 504.0h.8M143.4 535.6h.8M173.9 538.0h.8M164.8 492.9h.8M186.7 527.4h.8M146.1 498.0h.8M171.2 546.8h.8M145.6 521.3h.8M171.3 490.8h.8M185.4 540.9h.8M185.7 533.1h.8M189.6 521.2h.8M153.1 539.4h.8M141.9 511.0h.8M152.9 538.2h.8M183.7 529.0h.8M145.4 508.3h.8M186.7 509.9h.8M147.5 537.4h.8M157.6 547.8h.8M141.2 543.2h.8M145.1 524.9h.8M177.2 497.3h.8M166.4 546.4h.8M192.7 523.8h.8M156.8 549.3h.8M143.4 504.7h.8M164.7 538.9h.8M143.1 498.1h.8M187.6 533.4h.8M151.9 538.1h.8M139.1 520.6h.8M160.0 544.3h.8M144.1 530.2h.8M147.0 500.1h.8M139.7 509.4h.8M146.8 542.6h.8M169.6 542.0h.8M146.7 515.9h.8M143.7 518.8h.8M158.7 494.2h.8M146.5 528.2h.8M147.7 536.7h.8M174.3 493.9h.8M146.4 541.1h.8M171.5 539.0h.8M172.9 497.2h.8M140.0 537.0h.8M163.9 494.1h.8M168.4 540.5h.8M189.5 526.1h.8M181.6 500.8h.8M174.0 538.9h.8M187.5 533.2h.8M174.8 495.6h.8M140.0 505.0h.8M153.3 496.9h.8M146.0 502.1h.8M183.3 532.8h.8M146.4 527.5h.8M161.8 539.7h.8M146.7 537.2h.8M184.8 534.5h.8M157.5 541.4h.8M186.1 511.3h.8M183.8 498.8h.8M185.7 539.3h.8M150.2 499.4h.8M154.3 496.6h.8M144.8 537.8h.8M171.2 495.8h.8M148.0 537.8h.8M144.8 535.2h.8M186.5 520.3h.8M157.3 542.3h.8M143.1 537.6h.8M144.7 521.8h.8M164.2 495.9h.8M168.0 491.3h.8M187.8 518.1h.8M192.7 535.1h.8M182.2 506.6h.8M146.8 501.0h.8M176.5 538.7h.8M139.8 506.5h.8M185.7 515.1h.8M178.7 538.7h.8M186.6 517.0h.8M190.9 531.0h.8M145.6 521.0h.8M185.1 507.8h.8M161.3 541.6h.8M184.4 532.1h.8M178.6 538.2h.8M139.8 514.6h.8M151.6 491.3h.8M144.2 530.3h.8M185.4 508.3h.8M161.5 543.3h.8M145.8 533.7h.8M161.8 541.7h.8M188.9 518.4h.8M142.9 527.5h.8M153.9 489.9h.8M162.8 542.1h.8M186.0 519.4h.8M180.1 538.5h.8M144.3 525.5h.8M145.2 533.6h.8M164.9 544.6h.8M185.1 506.0h.8M176.6 501.0h.8M184.7 528.7h.8M178.5 496.4h.8M181.8 504.1h.8M145.8 508.7h.8M160.0 495.4h.8M142.8 530.8h.8M188.6 516.6h.8M190.9 514.9h.8M184.2 508.2h.8M155.0 492.6h.8M186.3 528.8h.8M168.2 493.5h.8M187.2 527.0h.8M188.4 502.9h.8M143.5 516.6h.8M145.8 514.2h.8M187.3 526.9h.8M163.3 539.9h.8M145.1 512.0h.8M188.4 508.3h.8M197.6 512.6h.8M198.1 507.7h.8M201.9 529.5h.8M190.0 520.1h.8M199.3 516.1h.8M196.6 520.4h.8M195.2 508.1h.8M190.9 525.2h.8M192.9 495.5h.8M193.2 510.1h.8M203.7 524.4h.8M188.4 531.6h.8M199.6 531.8h.8M192.9 523.6h.8M202.7 531.2h.8M187.0 517.6h.8M197.9 512.3h.8M190.1 514.1h.8M197.6 536.9h.8M197.4 526.9h.8M193.0 518.8h.8M196.7 516.0h.8M185.7 518.3h.8M217.2 508.9h.8M186.9 544.3h.8M200.6 518.0h.8M185.1 515.2h.8M195.2 513.8h.8M189.2 524.8h.8M186.8 531.1h.8M196.9 510.0h.8M184.9 522.5h.8M199.8 497.3h.8M210.0 508.4h.8M185.1 532.4h.8M188.8 507.2h.8M185.9 507.4h.8M194.7 503.1h.8M198.9 502.5h.8M196.0 489.3h.8M192.5 515.1h.8M201.6 509.1h.8M197.6 518.3h.8M189.9 522.9h.8M199.0 507.8h.8M187.2 532.0h.8M205.2 514.4h.8M205.2 528.8h.8M195.7 521.6h.8M201.2 519.0h.8M195.8 509.8h.8M202.7 515.4h.8M209.5 516.2h.8M197.5 500.4h.8M195.9 518.2h.8M195.7 506.8h.8M174.4 511.2h.8M197.8 532.7h.8M187.9 523.3h.8M186.7 528.4h.8M195.0 515.2h.8M199.5 506.4h.8M191.6 527.4h.8M185.8 507.3h.8M202.8 521.1h.8M190.5 507.8h.8M197.6 535.8h.8M208.2 507.8h.8M192.5 514.9h.8M183.1 521.9h.8M193.5 527.6h.8M190.5 520.2h.8M192.0 509.9h.8M210.5 500.4h.8M195.9 519.4h.8M211.5 513.8h.8M193.4 518.8h.8M210.3 517.0h.8M201.9 539.0h.8M190.0 530.0h.8M190.3 531.1h.8M201.0 521.0h.8M199.1 517.3h.8M174.2 507.8h.8M213.4 511.1h.8M195.9 522.1h.8M204.3 515.0h.8M205.0 519.7h.8M192.3 518.2h.8M204.9 502.3h.8M197.3 506.2h.8M194.8 497.8h.8M197.8 507.3h.8M205.4 508.4h.8M212.8 523.1h.8M191.2 540.2h.8M197.8 519.2h.8M186.9 516.8h.8M191.7 501.6h.8M188.3 532.8h.8M192.5 515.7h.8M190.6 511.4h.8M192.5 514.4h.8M196.9 524.2h.8M196.1 513.1h.8M190.0 523.1h.8M199.9 509.8h.8M182.5 517.4h.8M180.2 536.1h.8M196.8 528.8h.8M194.8 524.7h.8M209.5 520.0h.8M188.4 499.2h.8M192.0 517.6h.8M187.0 494.8h.8M191.1 513.5h.8M181.5 516.4h.8M201.7 498.6h.8M196.9 512.0h.8M197.8 516.1h.8M188.2 521.8h.8M211.7 513.0h.8M184.6 513.1h.8M210.3 506.8h.8M196.8 498.3h.8M183.5 515.9h.8M198.4 504.9h.8M198.5 508.2h.8M179.4 515.0h.8M200.3 538.3h.8M184.1 520.8h.8M198.5 517.7h.8M196.9 530.8h.8M205.0 503.1h.8M189.3 515.7h.8M184.3 518.7h.8M201.9 505.5h.8M193.6 506.4h.8M196.9 519.0h.8M187.9 526.8h.8M188.3 516.9h.8M198.1 501.9h.8M193.3 502.1h.8M203.8 509.7h.8M184.2 526.0h.8M192.9 536.3h.8M194.9 521.7h.8M187.2 513.7h.8M194.8 524.5h.8M206.5 511.9h.8M194.9 503.7h.8M190.8 513.9h.8M204.4 532.2h.8M194.2 506.7h.8M188.5 525.9h.8M207.1 518.4h.8M209.2 510.8h.8M193.0 517.5h.8M186.8 514.3h.8M191.6 493.6h.8M196.5 520.6h.8M206.7 509.3h.8M205.3 502.1h.8M205.8 503.1h.8M195.3 499.0h.8M209.8 505.5h.8M205.2 510.5h.8M198.5 522.1h.8M187.2 522.0h.8M193.7 503.8h.8M205.0 510.0h.8M206.8 512.8h.8M193.7 508.7h.8M196.7 507.3h.8M204.2 505.6h.8M207.5 507.1h.8M196.1 507.4h.8M214.9 485.4h.8M203.2 525.6h.8M205.8 532.9h.8M208.6 492.1h.8M197.9 503.2h.8M195.1 512.6h.8M205.0 521.9h.8M196.6 505.3h.8M199.4 514.6h.8M193.3 526.1h.8M207.2 502.0h.8M206.9 498.7h.8M192.9 497.2h.8M199.4 533.8h.8M186.9 509.8h.8M188.3 518.0h.8M205.0 495.1h.8M202.6 535.1h.8M194.2 514.8h.8M201.1 490.3h.8M189.2 522.3h.8M196.3 522.9h.8M188.6 514.8h.8M190.3 502.9h.8M201.7 532.5h.8M189.2 521.0h.8M201.4 528.5h.8M191.0 498.2h.8M200.2 504.2h.8M186.4 513.5h.8M196.1 516.3h.8M194.7 490.7h.8M179.2 524.7h.8M207.0 517.0h.8M187.9 527.9h.8M188.9 531.9h.8M198.9 523.7h.8M189.9 523.6h.8M180.4 534.1h.8M186.8 516.8h.8M203.8 523.4h.8M197.9 496.5h.8M207.4 507.7h.8M185.8 535.5h.8M218.1 504.6h.8M206.0 523.9h.8M200.4 521.7h.8M199.7 490.6h.8M191.1 511.1h.8M190.2 518.0h.8M196.5 523.1h.8M214.6 501.2h.8M203.1 534.1h.8M187.9 486.0h.8M187.6 500.2h.8M194.2 486.9h.8M191.1 493.3h.8M183.3 498.2h.8M162.8 501.4h.8M206.5 492.1h.8M178.5 486.8h.8M192.0 491.2h.8M167.9 483.8h.8M193.5 498.7h.8M174.8 501.2h.8M182.7 494.6h.8M177.8 499.1h.8M185.7 493.7h.8M191.3 490.3h.8M201.7 495.5h.8M181.5 488.0h.8M189.7 494.6h.8M186.1 488.1h.8M200.8 494.4h.8M197.8 496.8h.8M186.2 490.5h.8M174.7 498.4h.8M185.8 500.9h.8M202.6 496.7h.8M188.9 499.3h.8M205.3 493.7h.8M195.1 502.2h.8M178.6 497.5h.8M186.8 497.0h.8M197.9 493.6h.8M192.9 502.7h.8M196.2 497.2h.8M190.0 494.9h.8M199.5 493.4h.8M184.8 491.7h.8M185.7 495.3h.8M188.7 493.5h.8M211.7 489.3h.8M190.6 497.9h.8M189.0 495.0h.8M175.9 494.9h.8M196.5 490.2h.8M192.8 498.7h.8M189.4 495.1h.8M173.6 500.1h.8M211.5 500.6h.8M205.3 480.5h.8M180.9 491.6h.8M188.7 491.2h.8M169.3 492.7h.8M171.4 492.1h.8M196.5 503.0h.8M193.3 497.7h.8M169.4 487.8h.8M193.9 496.8h.8M189.0 490.3h.8M183.1 496.0h.8M205.6 493.5h.8" stroke="#222" stroke-width="0.8" fill="none" opacity="0.85"/>
<path d="M146.5,503.0C147.4,496.7 149.8,500.0 152.0,499.0C154.2,498.0 156.9,497.4 160.0,497.0C163.1,496.6 167.2,495.7 170.8,496.5C174.4,497.3 178.7,499.2 181.3,502.0C183.9,504.8 186.0,509.5 186.5,513.5C187.0,517.5 185.6,522.3 184.5,526.2C183.4,530.1 184.1,534.7 180.0,536.7C175.9,538.8 165.6,538.5 160.0,538.5C154.4,538.5 148.8,542.9 146.5,537.0C144.2,531.1 145.6,509.3 146.5,503.0Z" fill="#e4e4e4" stroke="#333" stroke-width="0.9"/>
<path d="M161.7 538.3h.9M149.5 526.6h.9M172.0 507.6h.9M146.8 508.5h.9M173.3 525.8h.9M157.3 533.4h.9M165.4 535.4h.9M170.9 525.1h.9M175.1 536.2h.9M163.0 509.7h.9M156.9 512.1h.9M156.3 500.3h.9M175.3 535.7h.9M163.5 502.9h.9M162.8 516.4h.9M161.5 519.0h.9M172.9 535.3h.9M159.8 536.9h.9M171.0 515.8h.9M168.4 534.8h.9M167.7 523.6h.9M166.0 521.6h.9M157.5 533.4h.9M148.4 525.8h.9M158.4 506.8h.9M148.5 508.5h.9M161.1 523.9h.9M152.6 518.5h.9M174.4 505.8h.9M158.6 519.3h.9M154.2 520.6h.9M148.6 527.3h.9M168.8 510.5h.9M171.6 511.5h.9M166.2 521.1h.9M154.0 534.7h.9M157.2 532.0h.9M155.0 532.7h.9M173.7 528.2h.9M171.9 510.6h.9M167.9 532.6h.9M161.0 515.3h.9M173.7 509.9h.9M154.7 513.3h.9M147.9 530.5h.9M153.8 516.2h.9M156.4 501.3h.9M152.9 526.4h.9M167.8 533.9h.9M170.5 498.1h.9M171.6 506.5h.9M169.5 499.0h.9M173.4 531.9h.9M171.1 530.4h.9M169.3 519.8h.9M162.2 530.3h.9M175.7 524.7h.9M172.0 506.0h.9M155.8 512.2h.9M163.8 527.3h.9M149.5 501.7h.9M162.8 503.5h.9M146.7 502.9h.9M174.7 528.9h.9M167.2 506.6h.9M166.3 506.8h.9M169.4 510.0h.9M163.9 534.3h.9M147.1 508.7h.9M150.1 531.7h.9M152.3 529.8h.9M154.2 504.9h.9M159.5 534.0h.9M156.5 504.5h.9M169.7 516.5h.9M174.8 517.3h.9M155.6 501.9h.9M156.7 520.8h.9M159.4 510.9h.9M164.8 534.9h.9M169.6 519.6h.9M159.1 510.8h.9M164.6 530.3h.9M155.2 535.7h.9M158.6 510.2h.9M165.4 500.8h.9M167.1 536.3h.9M151.2 537.1h.9M162.9 507.0h.9M168.1 500.5h.9M159.9 528.5h.9M158.5 527.6h.9M157.8 528.1h.9M175.3 520.7h.9M164.9 506.0h.9M150.7 518.0h.9M160.3 531.9h.9M151.0 500.2h.9M159.9 519.5h.9M156.7 499.8h.9M173.1 501.4h.9M164.9 523.4h.9M150.7 532.2h.9M170.3 525.5h.9M149.2 508.3h.9M152.5 510.2h.9M161.8 535.6h.9M165.3 520.2h.9M163.3 513.8h.9M149.3 525.0h.9M166.0 505.1h.9M151.8 516.7h.9M155.2 519.6h.9M146.9 525.4h.9M160.5 524.9h.9M162.2 537.1h.9M146.5 523.5h.9M161.7 523.7h.9M151.1 511.0h.9M166.8 524.8h.9M151.2 502.3h.9M162.7 511.4h.9M165.3 519.6h.9M149.8 508.6h.9M171.7 498.6h.9M172.9 500.4h.9M154.8 507.1h.9M159.0 500.7h.9M163.2 529.6h.9M160.2 514.2h.9M151.1 503.2h.9M150.9 531.5h.9M169.4 512.9h.9M174.1 506.0h.9M160.5 527.0h.9M160.3 538.3h.9M165.9 532.9h.9M153.6 515.0h.9M168.8 533.5h.9M147.1 526.7h.9M149.8 526.2h.9M147.4 508.1h.9M165.4 534.2h.9M163.8 506.9h.9M151.4 507.9h.9M147.1 507.0h.9M149.4 506.0h.9M162.0 535.0h.9M155.2 517.1h.9M163.5 536.5h.9M173.6 513.8h.9M150.0 507.7h.9M158.3 504.0h.9M147.8 503.0h.9M170.3 517.5h.9M169.8 526.8h.9M154.2 521.6h.9M170.0 537.6h.9M163.1 505.7h.9M155.5 526.3h.9M161.8 500.5h.9M166.5 515.4h.9M149.4 511.5h.9M150.0 516.9h.9M151.0 522.0h.9M168.0 535.2h.9M173.3 534.4h.9M147.0 535.7h.9M166.0 517.7h.9M155.8 509.9h.9M168.7 511.6h.9M146.8 510.8h.9M150.2 526.8h.9M175.9 527.1h.9M171.2 534.1h.9M162.9 508.8h.9M171.4 519.8h.9M158.9 516.4h.9M163.2 533.1h.9M151.4 499.5h.9M166.7 519.4h.9M147.8 515.2h.9M151.7 504.6h.9M154.8 517.0h.9M167.1 517.9h.9M151.5 535.2h.9M155.0 520.5h.9M173.5 517.3h.9M161.1 499.0h.9M164.1 499.8h.9M168.1 515.2h.9M149.3 511.6h.9M164.3 507.9h.9M149.1 514.6h.9M147.6 515.4h.9M174.6 519.0h.9M153.5 514.8h.9M147.2 514.9h.9M150.6 501.4h.9M164.8 512.2h.9M153.9 503.0h.9M157.8 536.9h.9M147.5 516.8h.9M157.3 499.7h.9M157.9 518.9h.9M158.1 512.6h.9M175.4 517.4h.9M162.2 525.4h.9M155.2 519.2h.9M171.5 502.9h.9M170.1 515.7h.9M161.7 517.0h.9M161.1 511.8h.9M158.2 530.5h.9M166.7 525.2h.9M154.7 522.9h.9M147.4 523.3h.9M157.8 500.2h.9M151.8 529.1h.9M150.6 528.9h.9M157.1 532.0h.9M169.5 524.4h.9M165.0 497.5h.9M166.5 526.1h.9M167.4 503.2h.9M168.2 497.6h.9M153.5 510.6h.9M165.7 512.1h.9M156.8 535.8h.9M150.6 503.3h.9M166.7 523.1h.9M161.7 527.9h.9M161.3 535.0h.9M146.7 528.2h.9M172.0 501.0h.9M162.3 536.1h.9M150.0 504.4h.9M152.7 503.0h.9M155.5 536.7h.9M170.9 518.0h.9M167.8 534.6h.9M158.9 535.2h.9M161.7 515.6h.9M162.5 501.5h.9M160.6 526.2h.9M148.8 521.1h.9M172.5 522.5h.9M156.9 499.1h.9M167.6 507.1h.9M149.1 528.5h.9M164.5 514.5h.9M164.8 532.8h.9M150.2 536.1h.9M173.8 518.9h.9M175.1 520.7h.9M163.4 507.7h.9M146.5 526.2h.9M170.8 506.6h.9M158.7 524.1h.9M156.8 518.9h.9M165.0 513.0h.9M157.6 516.1h.9M149.9 531.4h.9M156.3 499.7h.9M152.0 511.1h.9M159.8 522.5h.9M160.0 505.6h.9M165.5 517.8h.9M167.0 512.5h.9M160.8 526.0h.9M163.8 526.4h.9M162.3 530.2h.9M173.9 525.6h.9M152.8 528.9h.9M163.0 504.1h.9M166.6 537.6h.9M161.3 518.5h.9M151.7 528.8h.9M160.7 508.5h.9M169.5 526.5h.9M151.9 526.3h.9M169.4 522.7h.9M159.5 515.4h.9M150.2 515.7h.9M165.5 520.2h.9M166.2 522.2h.9M152.9 523.7h.9M153.4 507.3h.9M174.7 522.8h.9M159.4 530.8h.9M164.2 507.4h.9M165.2 505.5h.9M175.4 520.7h.9M150.4 536.3h.9M175.6 499.8h.9M159.2 516.9h.9M170.6 505.4h.9M175.5 533.7h.9M156.7 504.7h.9M169.7 501.6h.9M161.9 516.2h.9M169.4 509.5h.9M160.0 512.7h.9M156.9 525.8h.9M168.7 501.2h.9M150.4 527.8h.9M165.8 532.6h.9M175.3 521.1h.9M156.7 522.1h.9M165.2 527.9h.9M156.7 538.0h.9M161.9 504.7h.9M164.4 528.7h.9M155.5 536.9h.9M167.9 499.4h.9M169.4 529.1h.9M174.9 501.1h.9M172.1 519.3h.9M147.4 503.8h.9M163.3 526.2h.9M157.6 525.4h.9M164.7 521.5h.9M163.7 511.8h.9M174.2 521.8h.9M173.1 516.9h.9M175.7 506.3h.9M163.4 498.6h.9M171.9 510.3h.9M149.0 518.9h.9M167.0 504.6h.9M150.6 536.4h.9M163.9 530.8h.9M148.9 530.8h.9M147.0 522.8h.9M148.3 515.5h.9M174.8 519.1h.9M161.0 507.6h.9M150.2 508.5h.9M155.0 506.4h.9M151.1 504.6h.9M162.8 500.7h.9M175.5 508.8h.9M175.2 527.4h.9M160.8 525.1h.9M148.0 532.2h.9M175.3 535.3h.9M160.4 503.3h.9M175.8 504.1h.9M158.1 530.4h.9M149.5 527.1h.9M162.2 520.2h.9M153.6 506.7h.9M151.1 500.0h.9M150.8 504.8h.9M157.8 518.6h.9M158.9 536.1h.9M149.7 517.4h.9M171.6 529.7h.9M165.6 522.9h.9M152.6 508.5h.9M168.2 535.0h.9M151.7 530.6h.9M151.5 531.9h.9M159.0 498.1h.9M152.9 529.0h.9M172.8 514.4h.9M158.7 512.4h.9M149.4 502.4h.9M156.3 534.9h.9M172.9 501.2h.9M175.9 525.2h.9M172.9 531.4h.9M166.3 533.9h.9M175.4 526.5h.9M156.0 529.7h.9M164.3 525.6h.9M159.2 516.3h.9M149.9 511.8h.9M146.9 535.1h.9M166.5 513.0h.9" stroke="#333" stroke-width="0.9" opacity="0.55"/>
<path d="M148.8,504.7C149.4,499.2 150.9,502.2 152.8,501.2C154.7,500.2 157.2,499.3 160.1,498.7C162.9,498.2 166.8,497.2 170.0,498.1C173.2,498.9 176.9,501.2 179.3,503.8C181.6,506.3 183.6,510.0 184.2,513.6C184.9,517.1 184.1,521.6 183.1,525.0C182.1,528.5 182.0,532.4 178.2,534.2C174.4,536.0 165.4,535.6 160.4,535.7C155.5,535.8 150.6,539.9 148.6,534.7C146.7,529.6 148.1,510.3 148.8,504.7Z" fill="none" stroke="#555" stroke-width="0.8"/>
<path d="M150.6,505.5C151.3,500.5 152.5,503.8 154.3,503.0C156.1,502.2 159.0,501.3 161.5,500.9C164.0,500.5 166.6,499.9 169.4,500.6C172.2,501.3 176.2,502.8 178.3,505.1C180.4,507.3 181.4,511.0 181.9,514.2C182.4,517.4 182.1,521.5 181.3,524.5C180.6,527.5 180.7,530.6 177.4,532.2C174.1,533.8 165.9,534.0 161.4,534.2C156.8,534.4 151.9,538.1 150.1,533.3C148.3,528.5 149.9,510.6 150.6,505.5Z" fill="none" stroke="#666" stroke-width="0.8"/>
<path d="M152.1,506.4C152.7,502.0 154.5,505.2 156.2,504.6C157.8,503.9 159.9,502.7 162.0,502.4C164.2,502.1 166.7,502.2 169.2,502.8C171.8,503.4 175.4,504.3 177.2,506.1C179.1,508.0 180.0,511.1 180.3,514.0C180.7,516.9 179.9,520.8 179.2,523.6C178.4,526.4 178.5,529.5 175.6,530.9C172.7,532.3 165.6,532.0 161.8,532.0C158.0,532.0 154.2,535.1 152.6,530.9C151.0,526.6 151.5,510.8 152.1,506.4Z" fill="none" stroke="#777" stroke-width="0.7"/>
<path d="M153.9,508.8C154.5,504.9 155.7,506.1 157.1,505.5C158.4,504.8 160.0,504.9 161.9,504.8C163.9,504.7 166.7,504.5 168.8,504.9C171.0,505.3 173.3,505.5 174.8,507.1C176.3,508.7 177.3,511.8 177.7,514.3C178.2,516.7 178.0,519.6 177.5,522.0C176.9,524.3 177.0,526.9 174.4,528.2C171.9,529.5 165.6,529.7 162.1,529.8C158.7,529.9 155.1,532.2 153.7,528.7C152.3,525.2 153.3,512.6 153.9,508.8Z" fill="none" stroke="#777" stroke-width="0.7"/>
<path d="M157.0,500.0C158.7,498.8 163.0,497.7 166.0,497.5C169.0,497.3 173.2,497.6 175.0,499.0C176.8,500.4 177.5,503.8 177.0,506.0C176.5,508.2 173.8,510.8 172.0,512.0C170.2,513.2 168.2,513.3 166.0,513.0C163.8,512.7 160.7,511.3 159.0,510.0C157.3,508.7 156.3,506.7 156.0,505.0C155.7,503.3 155.3,501.2 157.0,500.0Z" fill="#151515" opacity="0.8" filter="url(#fbl)"/>
<ellipse cx="151" cy="518" rx="5" ry="14" transform="rotate(0 151 518)" fill="#888" opacity="0.45" filter="url(#fbl)"/>
<path d="M163.0,511.0C163.3,509.0 161.7,518.2 161.0,522.0C160.3,525.8 158.7,535.8 159.0,534.0" fill="none" stroke="#111" stroke-width="2.2" stroke-linecap="round" filter="url(#fbl)"/>
<path d="M170.0,511.0C170.3,509.7 168.7,518.8 168.0,522.0C167.3,525.2 165.7,531.8 166.0,530.0" fill="none" stroke="#222" stroke-width="1.6" stroke-linecap="round" filter="url(#fbl)"/>
<path d="M158.0,516.0C158.0,516.0 157.0,528.0 157.0,528.0" fill="none" stroke="#333" stroke-width="1.2" stroke-linecap="round" filter="url(#fbl)"/>
<ellipse cx="168" cy="506" rx="2.5" ry="3" fill="#fff" opacity="0.9" filter="url(#fbl)"/>
<ellipse cx="164" cy="521" rx="1.5" ry="2.5" fill="#fff" opacity="0.9" filter="url(#fbl)"/>
<ellipse cx="160" cy="503" rx="1.5" ry="1.5" fill="#fff" opacity="0.9" filter="url(#fbl)"/>
</g>
<line x1="163.4" y1="464.4" x2="163.4" y2="538.9" stroke="#4b59a2" stroke-width="1.2"/>
<line x1="145" y1="515.6" x2="217.7" y2="515.6" stroke="#4b59a2" stroke-width="1.2"/>
<rect x="145" y="464.4" width="72.69999999999999" height="74.5" fill="none" stroke="#111" stroke-width="1"/>
<line x1="145" y1="464.4" x2="145" y2="539.9" stroke="#000" stroke-width="1.5"/>
<line x1="144" y1="538.9" x2="217.7" y2="538.9" stroke="#000" stroke-width="1.5"/>
<path d="M142.0 535.2h3M142.0 519.9h3M142.0 503.1h3M142.0 486.4h3M142.0 469.6h3M149.4 538.9v3M159.5 538.9v3M177.0 538.9v3M193.3 538.9v3M210.4 538.9v3M143.2 530.6h1.8M143.2 527.8h1.8M143.2 526.0h1.8M143.2 524.5h1.8M143.2 523.3h1.8M143.2 522.2h1.8M143.2 521.4h1.8M143.2 520.7h1.8M152.4 538.9v1.8M154.2 538.9v1.8M155.5 538.9v1.8M156.5 538.9v1.8M157.3 538.9v1.8M158.0 538.9v1.8M158.5 538.9v1.8M159.0 538.9v1.8M143.2 514.9h1.8M143.2 511.9h1.8M143.2 509.8h1.8M143.2 508.2h1.8M143.2 506.8h1.8M143.2 505.7h1.8M143.2 504.8h1.8M143.2 504.0h1.8M164.8 538.9v1.8M167.9 538.9v1.8M170.0 538.9v1.8M171.8 538.9v1.8M173.1 538.9v1.8M174.4 538.9v1.8M175.2 538.9v1.8M176.1 538.9v1.8M143.2 498.1h1.8M143.2 495.1h1.8M143.2 493.1h1.8M143.2 491.4h1.8M143.2 490.1h1.8M143.2 488.9h1.8M143.2 488.1h1.8M143.2 487.2h1.8M181.9 538.9v1.8M184.8 538.9v1.8M186.8 538.9v1.8M188.4 538.9v1.8M189.7 538.9v1.8M190.9 538.9v1.8M191.7 538.9v1.8M192.5 538.9v1.8M143.2 481.3h1.8M143.2 478.3h1.8M143.2 476.3h1.8M143.2 474.6h1.8M143.2 473.3h1.8M143.2 472.1h1.8M143.2 471.3h1.8M143.2 470.5h1.8M198.5 538.9v1.8M201.5 538.9v1.8M203.6 538.9v1.8M205.3 538.9v1.8M206.7 538.9v1.8M207.9 538.9v1.8M208.7 538.9v1.8M209.6 538.9v1.8" stroke="#000" stroke-width="0.8"/>
<text x="141" y="537.4" font-size="6.3" fill="#444" text-anchor="end">0</text>
<text x="137.2" y="522.1" font-size="6.3" fill="#444" text-anchor="end">10<tspan font-size="4.2" dy="-2.6">2</tspan></text>
<text x="137.2" y="505.3" font-size="6.3" fill="#444" text-anchor="end">10<tspan font-size="4.2" dy="-2.6">3</tspan></text>
<text x="137.2" y="488.6" font-size="6.3" fill="#444" text-anchor="end">10<tspan font-size="4.2" dy="-2.6">4</tspan></text>
<text x="137.2" y="471.8" font-size="6.3" fill="#444" text-anchor="end">10<tspan font-size="4.2" dy="-2.6">5</tspan></text>
<text x="149.4" y="550.9" font-size="6.3" fill="#444" text-anchor="middle">0</text>
<text x="161.0" y="550.9" font-size="6.3" fill="#444" text-anchor="middle">10<tspan font-size="4.2" dy="-2.6">2</tspan></text>
<text x="178.5" y="550.9" font-size="6.3" fill="#444" text-anchor="middle">10<tspan font-size="4.2" dy="-2.6">3</tspan></text>
<text x="194.8" y="550.9" font-size="6.3" fill="#444" text-anchor="middle">10<tspan font-size="4.2" dy="-2.6">4</tspan></text>
<text x="211.9" y="550.9" font-size="6.3" fill="#444" text-anchor="middle">10<tspan font-size="4.2" dy="-2.6">5</tspan></text>
<text x="146.8" y="472.0" font-size="9.2" fill="#4b59a2">12.1</text>
<text x="216.5" y="472.0" font-size="9.2" fill="#4b59a2" text-anchor="end">34.2</text>
<text x="146.8" y="537.3" font-size="9.2" fill="#4b59a2">19.3</text>
<text x="216.5" y="537.3" font-size="9.2" fill="#4b59a2" text-anchor="end">33.8</text>
<clipPath id="fc3"><rect x="44.3" y="570.2" width="74.10000000000001" height="77.0"/></clipPath>
<g clip-path="url(#fc3)">
<path d="M80.1 602.8h.8M66.9 644.7h.8M83.9 611.6h.8M64.6 648.8h.8M63.7 648.7h.8M45.5 604.3h.8M47.0 611.1h.8M85.8 596.4h.8M77.9 603.2h.8M40.7 611.0h.8M71.9 625.9h.8M71.5 629.5h.8M62.8 652.0h.8M63.9 603.0h.8M62.9 649.0h.8M68.4 635.8h.8M50.1 607.1h.8M66.0 644.5h.8M88.5 602.4h.8M48.5 610.5h.8M69.2 626.7h.8M38.8 624.3h.8M77.5 617.7h.8M72.3 623.2h.8M41.3 622.4h.8M54.0 604.3h.8M61.5 605.2h.8M77.4 598.1h.8M42.6 617.2h.8M75.9 623.0h.8M63.5 648.8h.8M85.8 604.7h.8M67.6 631.1h.8M79.4 615.4h.8M79.5 610.4h.8M66.4 641.3h.8M67.1 642.3h.8M42.0 624.7h.8M42.8 614.1h.8M67.2 604.0h.8M44.1 616.8h.8M67.3 641.4h.8M74.0 602.5h.8M65.6 641.5h.8M84.7 603.2h.8M52.8 607.4h.8M41.1 612.7h.8M53.9 606.0h.8M74.9 619.1h.8M64.0 602.9h.8M88.4 600.4h.8M46.4 608.5h.8M66.5 648.5h.8M49.0 609.1h.8M86.6 604.9h.8M43.6 614.4h.8M69.7 633.9h.8M41.4 612.3h.8M86.3 604.5h.8M54.2 607.1h.8M65.4 649.0h.8M46.3 608.0h.8M71.9 602.7h.8M78.8 618.2h.8M65.9 648.1h.8M65.6 602.1h.8M46.7 608.0h.8M85.1 604.0h.8M42.9 618.7h.8M79.4 614.2h.8M71.6 626.8h.8M68.1 632.4h.8M61.7 649.0h.8M65.7 645.8h.8M67.1 640.4h.8M65.4 650.3h.8M41.4 621.8h.8M68.2 632.5h.8M81.5 623.9h.8M77.6 602.3h.8M84.4 604.2h.8M43.6 615.4h.8M67.3 634.5h.8M67.3 638.6h.8M43.1 611.4h.8M74.4 617.2h.8M66.4 641.8h.8M47.0 611.8h.8M65.9 651.6h.8M64.3 647.9h.8M48.6 608.3h.8M63.8 648.1h.8M71.1 626.2h.8M85.3 609.0h.8M46.0 611.1h.8M51.6 607.7h.8M41.4 618.8h.8M79.6 602.1h.8M70.5 624.6h.8M65.9 644.1h.8M81.5 606.8h.8M78.1 612.7h.8M87.1 603.3h.8M79.1 614.5h.8M64.8 648.6h.8M86.3 602.9h.8M79.2 614.7h.8M47.0 610.6h.8M66.6 642.3h.8M84.3 605.3h.8M77.6 601.4h.8M77.8 605.3h.8M71.5 603.3h.8M74.0 621.8h.8M56.9 606.7h.8M82.6 606.9h.8M88.4 605.0h.8M79.2 625.5h.8M69.4 604.1h.8M83.1 606.3h.8M61.4 649.0h.8M72.1 622.8h.8M75.4 602.2h.8M60.6 606.7h.8M68.7 637.3h.8M71.3 602.5h.8M69.6 602.9h.8M85.8 601.1h.8M62.1 648.1h.8M82.5 609.1h.8M58.4 599.3h.8M87.1 600.9h.8M86.3 598.5h.8M80.6 609.4h.8M81.7 619.4h.8M81.6 620.9h.8M74.3 617.3h.8M45.2 624.8h.8M66.7 605.2h.8M40.5 610.6h.8M42.6 621.0h.8M44.5 615.8h.8M73.1 624.1h.8M43.3 620.5h.8M43.9 622.7h.8M74.4 604.6h.8M69.1 634.6h.8M87.1 602.0h.8M79.9 610.8h.8M77.1 601.1h.8M51.9 608.1h.8M67.7 646.2h.8M84.4 603.3h.8M49.3 610.3h.8M40.8 625.4h.8M66.6 643.9h.8M44.3 612.2h.8M67.4 604.1h.8M86.7 602.0h.8M68.2 633.9h.8M80.6 618.5h.8M43.7 621.9h.8M64.3 651.2h.8M80.8 607.5h.8M79.5 600.7h.8M71.1 629.3h.8M80.6 608.6h.8M71.5 604.6h.8M66.8 636.5h.8M67.7 606.3h.8M39.7 626.5h.8M38.5 610.2h.8M63.4 650.0h.8M50.4 608.2h.8M85.5 599.1h.8M85.2 599.1h.8M67.5 635.6h.8M73.3 621.2h.8M71.3 629.2h.8M41.9 612.8h.8M51.8 609.5h.8M59.1 598.7h.8M61.7 606.0h.8M53.5 607.8h.8M44.3 616.1h.8M50.6 602.9h.8M69.6 632.8h.8M82.3 609.0h.8M87.1 605.4h.8M87.2 605.7h.8M61.5 647.5h.8M66.9 645.7h.8M78.8 613.2h.8M70.8 604.4h.8M89.0 604.3h.8M61.0 606.4h.8M68.7 642.9h.8M80.3 613.5h.8M53.2 606.0h.8M69.4 599.2h.8M77.7 613.2h.8M66.1 648.5h.8M81.0 612.6h.8M65.1 647.8h.8M78.0 623.6h.8M80.5 612.9h.8M70.0 630.9h.8M75.5 619.8h.8M71.1 627.2h.8M79.3 600.3h.8M66.7 636.7h.8M52.0 608.1h.8M76.9 620.4h.8M76.3 621.7h.8M42.4 624.4h.8M79.1 612.7h.8M84.2 600.9h.8M70.3 626.6h.8M61.3 604.8h.8M66.4 648.2h.8M54.2 603.6h.8M65.2 643.1h.8M42.3 612.5h.8M64.9 602.7h.8M45.3 606.4h.8M54.1 606.8h.8M54.8 603.2h.8M69.6 603.4h.8M45.5 609.6h.8M58.4 602.3h.8M44.6 619.4h.8M67.1 642.7h.8M49.3 609.0h.8M67.5 633.2h.8M56.0 606.3h.8M42.4 622.3h.8M50.0 606.4h.8M82.0 608.1h.8M65.9 641.2h.8M78.0 603.0h.8M69.0 604.4h.8M80.3 600.3h.8M64.7 649.6h.8M77.5 616.2h.8M81.2 612.1h.8M86.2 614.9h.8M82.4 610.7h.8M77.3 620.6h.8M50.4 604.8h.8M70.8 633.9h.8M36.8 615.0h.8M75.3 619.1h.8M67.2 599.0h.8M69.5 632.9h.8M70.5 629.4h.8M61.7 654.5h.8M64.3 604.6h.8M53.5 601.6h.8M44.4 624.3h.8M68.9 635.2h.8M74.4 623.5h.8M70.9 604.3h.8M82.2 602.9h.8M71.0 605.0h.8M66.1 642.0h.8M83.9 606.5h.8M77.9 603.0h.8M43.2 620.5h.8M85.1 603.2h.8M75.9 617.9h.8M67.6 643.7h.8M82.2 599.8h.8M75.0 603.5h.8M40.2 609.2h.8M71.9 627.8h.8M79.7 612.4h.8M71.5 599.0h.8M78.4 611.7h.8M87.3 585.3h.8M75.7 591.7h.8M92.6 578.4h.8M96.3 584.5h.8M68.6 588.9h.8M93.7 585.0h.8M59.9 607.9h.8M79.6 596.3h.8M66.2 606.2h.8M74.2 586.5h.8M105.1 584.2h.8M59.2 592.7h.8M44.2 603.5h.8M62.6 590.9h.8M71.8 590.9h.8M85.5 586.8h.8M77.4 590.2h.8M78.3 593.5h.8M63.7 597.9h.8M67.0 593.6h.8M54.3 596.7h.8M52.8 607.4h.8M46.8 602.5h.8M75.0 593.7h.8M56.9 607.0h.8M101.0 585.4h.8M94.2 579.0h.8M48.7 604.8h.8M59.4 595.3h.8M56.5 613.8h.8M98.7 576.6h.8M60.8 600.6h.8M102.8 583.3h.8M77.6 598.7h.8M57.8 603.8h.8M97.6 598.7h.8M89.1 588.9h.8M86.0 586.8h.8M89.6 587.5h.8M104.8 585.7h.8M64.4 598.4h.8M83.1 586.3h.8M58.9 595.3h.8M96.2 583.3h.8M85.8 580.0h.8M70.1 595.3h.8M92.3 585.0h.8M82.2 596.9h.8M69.1 599.2h.8M83.2 590.5h.8M57.6 601.6h.8M98.8 575.9h.8M94.7 583.5h.8M45.6 601.5h.8M77.7 591.7h.8M52.3 591.3h.8M57.7 610.1h.8M73.2 593.0h.8M90.1 590.4h.8M86.6 593.5h.8M81.2 592.0h.8M82.8 592.2h.8M97.3 583.5h.8M50.1 605.2h.8M89.6 581.9h.8M105.1 583.3h.8M80.8 589.9h.8M48.3 614.0h.8M61.2 598.5h.8M45.7 603.5h.8M73.0 587.3h.8M55.9 614.9h.8M89.5 579.1h.8M73.7 600.3h.8M83.7 587.5h.8M73.0 597.7h.8M91.4 583.5h.8M70.8 598.5h.8M49.6 602.0h.8M79.7 597.7h.8M80.1 590.6h.8M47.0 607.3h.8M65.9 599.8h.8M63.2 605.4h.8M87.5 581.0h.8M86.6 583.2h.8M74.2 589.4h.8M49.5 607.0h.8M90.9 583.5h.8M99.7 582.0h.8M77.7 587.8h.8M50.9 600.2h.8M104.9 582.1h.8M105.7 583.8h.8M49.8 598.5h.8M59.6 600.3h.8M99.3 581.4h.8M73.1 594.6h.8M44.2 604.5h.8M94.4 573.7h.8M47.0 604.0h.8M71.3 590.8h.8M62.4 598.1h.8M83.0 592.4h.8M50.8 605.9h.8M101.7 580.7h.8M59.3 608.3h.8M78.0 596.4h.8M87.4 579.8h.8M49.7 604.4h.8M79.4 577.2h.8M44.9 605.9h.8M46.9 600.5h.8M65.6 586.3h.8M85.0 583.6h.8M71.7 592.8h.8M82.2 594.6h.8M88.9 587.8h.8M58.6 596.6h.8M66.4 597.9h.8M83.2 589.0h.8M67.9 582.7h.8M56.6 600.7h.8M59.8 601.9h.8M78.3 588.6h.8M54.7 599.9h.8M51.8 606.7h.8M62.3 604.9h.8M95.4 579.3h.8M69.7 593.7h.8M47.0 605.1h.8M63.0 589.6h.8M87.6 587.0h.8M59.9 604.0h.8M54.3 596.6h.8M86.1 583.3h.8M51.4 604.7h.8M65.0 591.6h.8M73.4 590.6h.8M68.9 597.6h.8M82.1 587.4h.8M52.0 591.9h.8M98.6 585.2h.8M99.7 573.7h.8M53.9 604.9h.8M47.8 594.1h.8M81.7 594.5h.8M94.9 582.7h.8M97.4 580.2h.8M58.2 602.2h.8M92.4 581.1h.8M72.0 596.9h.8M99.8 581.9h.8M101.4 582.2h.8M59.4 589.1h.8M65.4 607.6h.8M51.2 607.3h.8M57.1 598.8h.8M100.9 582.9h.8M69.1 607.7h.8M63.4 600.0h.8M80.6 597.4h.8M66.8 592.4h.8M94.3 584.2h.8M100.2 581.9h.8M45.3 596.7h.8M60.1 601.0h.8M103.3 583.4h.8M100.7 587.5h.8M50.5 600.9h.8M74.4 604.7h.8M62.2 603.2h.8M63.3 602.1h.8M99.0 581.1h.8M62.9 597.5h.8M97.2 580.9h.8M66.8 592.5h.8M82.5 596.5h.8M61.7 604.5h.8M48.4 610.5h.8M95.7 581.9h.8M65.4 600.5h.8M50.7 601.6h.8M71.4 601.2h.8M64.1 596.6h.8M93.3 591.1h.8M71.1 595.8h.8M49.7 598.6h.8M56.4 605.4h.8M65.6 592.4h.8M76.6 595.6h.8M64.7 593.6h.8M69.2 602.8h.8M73.4 594.4h.8M72.0 588.7h.8M87.9 589.2h.8M57.0 604.2h.8M96.0 583.3h.8M55.8 603.3h.8M48.1 601.5h.8M79.0 597.1h.8M93.3 575.9h.8M104.7 584.7h.8M52.0 605.6h.8M86.3 579.5h.8M93.0 587.8h.8M102.1 575.9h.8M73.6 583.9h.8M50.5 606.4h.8M49.5 603.4h.8M93.4 583.3h.8M49.7 612.8h.8M57.3 601.0h.8M74.6 592.0h.8M101.0 583.3h.8M92.1 593.8h.8M81.9 591.0h.8M42.6 599.6h.8M51.0 590.1h.8M56.6 598.4h.8M82.4 597.3h.8M74.2 601.3h.8M75.2 591.7h.8M87.0 585.2h.8M93.3 587.8h.8M57.5 597.8h.8M56.5 606.5h.8M66.7 593.6h.8M75.1 591.7h.8M63.1 594.1h.8M90.5 586.9h.8M47.6 601.3h.8M99.4 581.2h.8M66.1 590.0h.8M100.3 578.2h.8M51.5 605.6h.8M64.1 594.0h.8M99.7 578.9h.8M80.4 583.0h.8M81.3 592.5h.8M78.9 584.8h.8M74.1 593.9h.8M95.4 587.4h.8M66.0 606.4h.8M97.2 588.8h.8M72.2 597.4h.8M87.5 588.8h.8M54.4 606.8h.8M78.1 591.7h.8M55.5 602.1h.8M59.0 606.4h.8M77.8 590.4h.8M60.0 594.7h.8M81.4 581.9h.8M42.8 602.1h.8M48.5 607.8h.8M90.9 584.1h.8M83.5 593.6h.8M75.4 582.2h.8M75.7 593.2h.8M67.7 603.0h.8M67.5 599.5h.8M76.5 592.2h.8M47.4 606.4h.8M57.7 610.1h.8M81.5 596.3h.8M58.4 599.0h.8M45.8 599.1h.8M90.3 588.8h.8M60.5 618.7h.8M61.9 599.3h.8M97.4 593.9h.8M80.5 594.2h.8M88.2 591.9h.8M51.9 613.1h.8M98.1 577.7h.8M82.0 579.0h.8M56.9 591.5h.8M64.0 600.8h.8M93.0 587.4h.8M50.5 604.3h.8M94.7 578.7h.8M88.3 583.1h.8M43.8 597.8h.8M59.2 596.6h.8M86.2 592.4h.8M96.6 582.6h.8M81.3 577.8h.8M62.6 589.8h.8M92.9 584.6h.8M65.1 593.2h.8M60.7 605.8h.8M100.1 589.7h.8M73.7 593.9h.8M54.4 597.1h.8M100.8 578.8h.8M93.6 575.2h.8M95.0 578.4h.8M56.6 606.6h.8M100.0 572.6h.8M88.7 584.1h.8M84.4 591.3h.8M57.6 601.6h.8M91.0 578.8h.8M64.6 594.2h.8M88.3 598.4h.8M65.3 592.3h.8M82.1 587.8h.8M74.2 590.2h.8M102.9 595.5h.8M89.5 586.0h.8M89.5 590.2h.8M92.7 583.0h.8M86.3 585.0h.8M73.9 588.6h.8M73.5 599.2h.8M83.3 589.6h.8M45.6 591.0h.8M81.6 597.8h.8M78.2 589.1h.8M98.9 591.9h.8M82.5 591.8h.8M78.4 588.9h.8M55.1 609.5h.8M75.8 592.3h.8M97.3 595.8h.8M73.0 594.4h.8M73.8 588.4h.8M56.7 607.5h.8M87.1 580.5h.8M50.0 605.1h.8M78.0 591.1h.8M75.8 598.3h.8M98.1 584.8h.8M80.3 586.9h.8M69.5 605.1h.8M97.2 581.3h.8M102.8 581.8h.8M49.1 604.9h.8M55.4 611.7h.8M78.9 596.2h.8M63.4 592.9h.8M91.0 589.3h.8M79.6 584.8h.8M58.6 586.5h.8M105.9 588.5h.8M45.6 608.0h.8M93.2 588.7h.8M58.6 605.3h.8M58.1 609.2h.8M98.4 571.3h.8M94.6 587.6h.8M57.7 602.5h.8M56.0 596.4h.8M46.9 604.1h.8M60.3 593.2h.8M94.9 586.1h.8M52.3 609.3h.8M67.5 601.5h.8M52.4 599.3h.8M57.9 598.4h.8M96.0 580.2h.8M50.5 609.7h.8M91.4 580.1h.8M67.1 600.0h.8M82.5 591.3h.8M49.3 612.4h.8M99.1 588.4h.8M96.9 586.9h.8M94.4 578.4h.8M84.1 583.7h.8M45.7 604.7h.8M50.3 604.6h.8M54.5 608.8h.8M99.2 574.2h.8M96.1 579.4h.8M62.3 609.5h.8M57.3 592.3h.8M53.8 606.6h.8M88.0 576.4h.8M68.3 594.2h.8M58.2 599.3h.8M69.7 595.6h.8M98.9 580.0h.8M48.3 609.5h.8M93.0 584.3h.8M95.5 589.8h.8M85.6 586.7h.8M62.7 600.2h.8M96.3 581.2h.8M84.5 601.0h.8M65.5 602.6h.8M49.0 605.1h.8M62.1 600.5h.8M89.8 594.2h.8M95.2 583.5h.8M93.1 583.8h.8M57.9 595.8h.8M52.9 599.8h.8M88.2 586.1h.8M61.6 593.3h.8M80.8 587.3h.8M54.0 602.5h.8M60.8 608.2h.8M86.6 593.3h.8M101.3 580.1h.8M83.6 595.6h.8M88.5 584.8h.8M86.1 590.4h.8M81.6 596.5h.8M69.9 589.1h.8M88.1 577.1h.8M94.9 589.5h.8M84.6 595.6h.8M101.6 584.5h.8M102.6 580.7h.8M66.2 595.3h.8M65.8 590.4h.8M65.3 583.0h.8M74.2 587.6h.8M90.9 579.2h.8M86.3 588.6h.8M90.2 582.4h.8M98.3 576.0h.8M84.3 584.4h.8M65.5 598.8h.8M70.4 595.1h.8M92.7 575.4h.8M67.6 596.4h.8M80.7 588.7h.8M87.7 581.1h.8M85.6 589.2h.8M71.7 591.9h.8M83.1 584.0h.8M69.1 596.8h.8M81.2 587.4h.8M82.1 580.2h.8M93.7 585.0h.8M69.8 601.3h.8M76.6 589.2h.8M65.2 597.5h.8M69.1 597.8h.8M74.3 588.7h.8M84.9 581.4h.8M98.5 578.1h.8M83.1 580.7h.8M71.1 588.8h.8M81.9 582.1h.8M79.6 587.2h.8M87.6 580.5h.8M100.2 578.4h.8M99.7 576.8h.8M64.1 597.6h.8M61.0 593.3h.8M88.0 589.3h.8M72.2 591.6h.8M97.6 578.8h.8M75.6 588.3h.8M66.1 594.7h.8M62.3 595.2h.8M65.3 596.7h.8M72.1 589.4h.8M76.4 585.6h.8M97.4 576.3h.8M70.8 585.3h.8M70.2 593.4h.8M67.6 595.4h.8M94.6 576.4h.8M92.0 578.3h.8M65.0 597.5h.8M93.7 576.5h.8M67.5 595.0h.8M69.6 594.0h.8M81.6 584.8h.8M83.3 581.2h.8M75.7 588.9h.8M69.0 596.2h.8M79.8 580.5h.8M70.9 594.0h.8M66.3 593.3h.8M86.0 585.9h.8M62.7 592.6h.8M99.9 577.8h.8M100.6 578.3h.8M91.7 580.6h.8M93.5 578.2h.8M78.5 593.8h.8M97.4 577.8h.8M58.9 591.5h.8M74.2 592.3h.8M72.4 591.8h.8M98.4 573.3h.8M95.7 581.8h.8M66.0 590.5h.8M86.0 580.2h.8M81.9 584.1h.8M73.2 593.2h.8M77.7 595.4h.8M65.9 598.8h.8M86.8 582.7h.8M74.3 591.9h.8M94.4 581.6h.8M72.0 593.9h.8M95.2 577.1h.8M66.4 592.8h.8M66.2 595.2h.8M79.7 584.3h.8M70.0 595.7h.8M71.1 588.7h.8M66.0 601.3h.8M77.8 590.9h.8M68.7 589.7h.8M100.5 577.2h.8M61.2 598.5h.8M78.3 589.7h.8M70.5 590.1h.8M92.2 580.9h.8M86.7 583.6h.8M62.7 594.6h.8M83.9 584.5h.8M92.9 577.3h.8M85.3 584.9h.8M89.0 584.4h.8M75.4 590.4h.8M79.9 586.3h.8M72.3 596.2h.8M95.6 577.0h.8M64.0 597.8h.8M65.7 596.4h.8M79.6 594.1h.8M81.4 594.9h.8M89.7 579.4h.8M68.8 591.3h.8M71.8 595.1h.8M74.1 590.8h.8M91.0 583.4h.8M82.6 581.9h.8M85.1 585.5h.8M90.1 587.9h.8M78.9 588.5h.8" stroke="#222" stroke-width="0.8" fill="none" opacity="0.6"/>
<path d="M44.5,612.9C45.7,606.7 48.7,610.6 51.7,609.7C54.7,608.8 58.8,608.5 62.3,607.6C65.8,606.7 69.7,605.4 72.9,604.5C76.1,603.6 79.5,602.5 81.3,602.4C83.1,602.3 84.5,602.2 84.0,604.0C83.5,605.8 80.2,609.7 78.0,613.0C75.8,616.3 72.7,620.1 71.0,623.6C69.3,627.1 68.5,630.4 67.6,634.2C66.7,638.1 69.3,644.6 65.5,646.7C61.6,648.8 48.0,652.3 44.5,646.7C41.0,641.1 43.3,619.1 44.5,612.9Z" fill="#f4f4f4" stroke="#333" stroke-width="0.9"/>
<path d="M45.5 621.8h.9M61.9 619.0h.9M48.4 627.9h.9M54.6 636.2h.9M46.6 621.4h.9M59.2 630.7h.9M45.4 624.1h.9M61.3 631.7h.9M62.4 630.5h.9M46.6 625.2h.9M55.7 625.5h.9M64.4 629.0h.9M48.0 628.6h.9M66.4 632.3h.9M52.7 626.6h.9M67.8 618.0h.9M68.2 623.0h.9M61.9 635.1h.9M68.4 622.1h.9M56.1 623.0h.9M59.3 625.9h.9M57.1 636.5h.9M56.7 630.1h.9M56.5 635.6h.9M59.4 629.1h.9M49.6 636.8h.9M49.8 619.5h.9M58.6 625.3h.9M69.3 620.3h.9M50.6 618.1h.9M66.9 618.9h.9M52.6 629.4h.9M59.3 635.9h.9M44.5 634.5h.9M52.7 634.8h.9M52.0 628.3h.9M64.7 631.9h.9M66.0 624.4h.9M47.4 626.5h.9M66.0 637.1h.9M70.2 621.2h.9M65.2 633.9h.9M54.9 624.6h.9M63.1 641.1h.9M63.1 624.9h.9M50.8 626.2h.9M55.4 625.2h.9M62.5 644.6h.9M54.1 625.4h.9M65.5 630.2h.9M51.4 624.9h.9M68.1 624.0h.9M64.6 623.3h.9M52.3 622.5h.9M62.4 619.0h.9M64.5 621.6h.9M58.4 622.4h.9M65.9 637.3h.9M56.5 625.1h.9M66.2 639.7h.9M60.5 641.6h.9M51.4 630.1h.9M62.4 628.4h.9M59.8 635.9h.9M68.0 628.6h.9M66.9 635.2h.9M62.8 642.1h.9M56.9 626.8h.9M67.0 629.1h.9M51.8 632.0h.9M49.1 626.0h.9M62.3 633.2h.9M63.1 624.7h.9M65.5 618.3h.9M73.1 620.1h.9M52.1 636.0h.9M50.1 629.4h.9M61.8 618.9h.9M54.8 632.3h.9M51.3 624.5h.9M59.4 634.2h.9M68.1 622.3h.9M58.7 636.7h.9M61.3 633.4h.9M57.0 627.2h.9M66.9 637.6h.9M63.1 621.0h.9M66.4 622.8h.9M60.8 640.0h.9M68.2 630.6h.9M59.9 634.4h.9M55.7 631.5h.9M54.4 624.9h.9M67.4 628.6h.9M48.0 621.4h.9M48.8 631.7h.9M64.1 634.4h.9M59.3 632.4h.9M61.9 629.3h.9M70.6 620.3h.9M60.4 643.2h.9M63.1 640.8h.9M57.1 632.6h.9M62.1 641.3h.9M61.4 619.9h.9M62.4 646.2h.9M63.1 633.8h.9M64.7 624.4h.9M59.3 633.8h.9M63.9 625.2h.9M67.7 631.4h.9M44.9 628.7h.9M54.0 635.7h.9M65.9 623.5h.9M59.1 624.4h.9M61.8 634.5h.9M60.9 640.8h.9M61.2 639.6h.9M58.6 627.8h.9M57.7 618.4h.9M44.8 621.2h.9M60.0 636.5h.9M58.9 622.3h.9M45.6 637.0h.9M55.5 637.0h.9M58.0 622.3h.9M45.5 636.2h.9M54.6 626.5h.9M47.8 627.6h.9M62.2 640.5h.9" stroke="#333" stroke-width="0.9" opacity="0.55"/>
<path d="M46.3,616.8C47.2,612.0 49.4,615.6 51.7,615.0C54.0,614.3 57.3,613.7 60.2,612.9C63.1,612.1 66.5,610.7 69.0,610.0C71.5,609.3 73.9,608.7 75.4,608.7C76.8,608.8 78.2,608.8 77.7,610.2C77.2,611.6 74.3,614.7 72.5,617.2C70.8,619.7 68.4,622.3 67.2,625.2C65.9,628.1 65.5,631.6 64.8,634.7C64.1,637.9 66.0,642.5 62.9,644.1C59.7,645.6 48.6,648.6 45.8,644.1C43.1,639.6 45.3,621.7 46.3,616.8Z" fill="none" stroke="#666" stroke-width="0.7"/>
<path d="M47.0,620.0C47.9,616.0 50.4,618.5 52.3,618.0C54.2,617.5 56.2,617.6 58.4,617.0C60.5,616.5 62.9,615.2 65.0,614.6C67.1,614.1 69.9,614.0 71.1,613.8C72.4,613.7 72.8,613.0 72.6,614.0C72.3,614.9 70.8,617.5 69.5,619.8C68.1,622.0 65.4,624.9 64.3,627.3C63.1,629.6 63.4,631.5 62.7,634.0C62.1,636.4 63.1,640.7 60.5,642.0C57.8,643.3 49.2,645.5 47.0,641.8C44.7,638.2 46.1,624.0 47.0,620.0Z" fill="none" stroke="#555" stroke-width="0.7"/>
<path d="M48.7,623.5C49.4,620.4 50.7,621.9 52.1,621.6C53.6,621.2 55.7,621.6 57.3,621.3C59.0,621.0 60.6,620.3 62.1,619.8C63.6,619.3 65.3,618.6 66.4,618.5C67.5,618.3 68.7,618.1 68.5,619.0C68.4,619.8 66.7,621.6 65.5,623.4C64.3,625.1 62.4,627.6 61.4,629.3C60.5,631.0 60.4,631.7 59.9,633.6C59.4,635.4 60.3,639.3 58.3,640.4C56.4,641.4 49.7,642.6 48.1,639.8C46.5,637.0 48.1,626.5 48.7,623.5Z" fill="none" stroke="#444" stroke-width="0.8"/>
<path d="M45.0,624.0C46.2,621.5 50.5,620.8 53.0,621.0C55.5,621.2 58.6,623.2 60.0,625.0C61.4,626.8 62.0,630.2 61.5,632.0C61.0,633.8 59.6,635.3 57.0,636.0C54.4,636.7 48.0,638.0 46.0,636.0C44.0,634.0 43.8,626.5 45.0,624.0Z" fill="#333" opacity="0.55" filter="url(#fbl)"/>
<path d="M47.0,626.0C47.3,625.3 49.8,630.3 50.0,632.0C50.2,633.7 48.5,637.0 48.0,636.0" fill="none" stroke="#000" stroke-width="1.6" stroke-linecap="round" filter="url(#fbl)"/>
<path d="M55.0,624.0C55.5,623.2 58.0,628.2 58.0,630.0C58.0,631.8 55.5,636.0 55.0,635.0" fill="none" stroke="#111" stroke-width="1.4" stroke-linecap="round" filter="url(#fbl)"/>
<path d="M51.0,622.0C51.0,622.0 53.0,629.0 53.0,629.0" fill="none" stroke="#222" stroke-width="1.2" stroke-linecap="round" filter="url(#fbl)"/>
</g>
<line x1="68.2" y1="570.2" x2="68.2" y2="647.2" stroke="#4b59a2" stroke-width="1.2"/>
<line x1="44.3" y1="623" x2="118.4" y2="623" stroke="#4b59a2" stroke-width="1.2"/>
<rect x="44.3" y="570.2" width="74.10000000000001" height="77.0" fill="none" stroke="#111" stroke-width="1"/>
<line x1="44.3" y1="570.2" x2="44.3" y2="648.2" stroke="#000" stroke-width="1.5"/>
<line x1="43.3" y1="647.2" x2="118.4" y2="647.2" stroke="#000" stroke-width="1.5"/>
<path d="M41.3 643.4h3M41.3 627.6h3M41.3 610.2h3M41.3 592.9h3M41.3 575.6h3M48.7 647.2v3M59.1 647.2v3M76.9 647.2v3M93.6 647.2v3M111.0 647.2v3M42.5 638.6h1.8M42.5 635.8h1.8M42.5 633.9h1.8M42.5 632.3h1.8M42.5 631.0h1.8M42.5 629.9h1.8M42.5 629.1h1.8M42.5 628.4h1.8M51.9 647.2v1.8M53.7 647.2v1.8M55.0 647.2v1.8M56.0 647.2v1.8M56.8 647.2v1.8M57.6 647.2v1.8M58.1 647.2v1.8M58.6 647.2v1.8M42.5 622.4h1.8M42.5 619.2h1.8M42.5 617.2h1.8M42.5 615.4h1.8M42.5 614.1h1.8M42.5 612.8h1.8M42.5 612.0h1.8M42.5 611.1h1.8M64.5 647.2v1.8M67.7 647.2v1.8M69.8 647.2v1.8M71.6 647.2v1.8M73.0 647.2v1.8M74.2 647.2v1.8M75.1 647.2v1.8M76.0 647.2v1.8M42.5 605.0h1.8M42.5 601.9h1.8M42.5 599.8h1.8M42.5 598.1h1.8M42.5 596.7h1.8M42.5 595.5h1.8M42.5 594.6h1.8M42.5 593.8h1.8M81.9 647.2v1.8M84.9 647.2v1.8M86.9 647.2v1.8M88.6 647.2v1.8M89.9 647.2v1.8M91.1 647.2v1.8M91.9 647.2v1.8M92.7 647.2v1.8M42.5 587.7h1.8M42.5 584.6h1.8M42.5 582.5h1.8M42.5 580.8h1.8M42.5 579.4h1.8M42.5 578.2h1.8M42.5 577.3h1.8M42.5 576.5h1.8M98.8 647.2v1.8M101.9 647.2v1.8M104.0 647.2v1.8M105.8 647.2v1.8M107.2 647.2v1.8M108.4 647.2v1.8M109.2 647.2v1.8M110.1 647.2v1.8" stroke="#000" stroke-width="0.8"/>
<text x="40.3" y="645.6" font-size="6.3" fill="#444" text-anchor="end">0</text>
<text x="36.5" y="629.8" font-size="6.3" fill="#444" text-anchor="end">10<tspan font-size="4.2" dy="-2.6">2</tspan></text>
<text x="36.5" y="612.4" font-size="6.3" fill="#444" text-anchor="end">10<tspan font-size="4.2" dy="-2.6">3</tspan></text>
<text x="36.5" y="595.1" font-size="6.3" fill="#444" text-anchor="end">10<tspan font-size="4.2" dy="-2.6">4</tspan></text>
<text x="36.5" y="577.8" font-size="6.3" fill="#444" text-anchor="end">10<tspan font-size="4.2" dy="-2.6">5</tspan></text>
<text x="48.7" y="659.2" font-size="6.3" fill="#444" text-anchor="middle">0</text>
<text x="60.6" y="659.2" font-size="6.3" fill="#444" text-anchor="middle">10<tspan font-size="4.2" dy="-2.6">2</tspan></text>
<text x="78.4" y="659.2" font-size="6.3" fill="#444" text-anchor="middle">10<tspan font-size="4.2" dy="-2.6">3</tspan></text>
<text x="95.1" y="659.2" font-size="6.3" fill="#444" text-anchor="middle">10<tspan font-size="4.2" dy="-2.6">4</tspan></text>
<text x="112.5" y="659.2" font-size="6.3" fill="#444" text-anchor="middle">10<tspan font-size="4.2" dy="-2.6">5</tspan></text>
<text x="46.099999999999994" y="577.8000000000001" font-size="9.2" fill="#4b59a2">19</text>
<text x="117.2" y="577.8000000000001" font-size="9.2" fill="#4b59a2" text-anchor="end">6.01</text>
<text x="46.099999999999994" y="645.6" font-size="9.2" fill="#4b59a2">74.6</text>
<text x="117.2" y="645.6" font-size="9.2" fill="#4b59a2" text-anchor="end">0.32</text>
<clipPath id="fc4"><rect x="145" y="570.2" width="73.4" height="76.5"/></clipPath>
<g clip-path="url(#fc4)">
<path d="M179.9 596.6h.8M158.6 598.6h.8M174.5 620.5h.8M167.9 596.4h.8M154.9 602.0h.8M169.8 619.7h.8M143.8 616.4h.8M178.0 600.1h.8M166.1 639.0h.8M183.6 599.2h.8M173.5 593.0h.8M160.0 599.7h.8M177.8 597.9h.8M139.4 613.6h.8M174.3 597.1h.8M184.1 604.8h.8M156.3 600.4h.8M161.7 645.4h.8M167.5 634.7h.8M173.8 598.3h.8M169.7 630.7h.8M155.3 595.0h.8M141.0 612.4h.8M166.8 641.1h.8M179.4 605.9h.8M142.9 618.2h.8M166.2 644.8h.8M168.2 637.1h.8M172.3 624.2h.8M165.2 646.2h.8M170.2 625.2h.8M169.7 594.9h.8M181.9 604.8h.8M149.2 598.9h.8M146.8 596.7h.8M183.0 600.2h.8M168.0 642.5h.8M167.1 629.2h.8M175.1 611.1h.8M144.7 602.9h.8M176.2 596.4h.8M172.3 620.6h.8M176.2 593.9h.8M181.8 600.0h.8M176.2 613.5h.8M177.5 607.8h.8M166.5 644.0h.8M159.9 598.0h.8M153.6 603.3h.8M178.9 598.8h.8M159.5 647.3h.8M180.0 599.0h.8M177.1 608.5h.8M172.6 592.4h.8M169.3 628.1h.8M149.4 603.7h.8M143.8 610.6h.8M141.4 607.6h.8M146.8 604.3h.8M179.8 604.3h.8M144.6 608.3h.8M173.1 624.0h.8M146.3 613.3h.8M159.6 647.1h.8M182.2 605.4h.8M175.2 594.9h.8M171.3 626.1h.8M164.7 593.7h.8M173.9 616.9h.8M145.4 611.5h.8M182.5 607.0h.8M142.7 600.3h.8M148.9 599.3h.8M172.4 594.5h.8M174.2 614.6h.8M178.0 606.9h.8M158.2 599.2h.8M145.8 609.0h.8M172.1 626.2h.8M176.5 598.3h.8M150.8 600.3h.8M153.2 602.1h.8M170.4 594.1h.8M168.1 593.9h.8M150.2 601.8h.8M167.4 634.0h.8M182.2 597.5h.8M142.8 602.6h.8M164.3 594.9h.8M167.6 639.8h.8M168.8 620.6h.8M145.0 607.4h.8M168.2 630.8h.8M181.5 598.5h.8M170.5 621.1h.8M146.8 599.7h.8M171.3 623.6h.8M183.8 598.0h.8M168.7 634.1h.8M148.1 601.4h.8M185.2 596.9h.8M181.2 599.7h.8M177.0 596.7h.8M179.1 599.4h.8M165.7 592.2h.8M151.7 602.7h.8M142.4 615.1h.8M166.4 644.6h.8M142.0 604.7h.8M170.1 618.4h.8M168.9 638.3h.8M159.8 599.8h.8M176.9 596.5h.8M142.8 615.7h.8M176.8 610.4h.8M169.2 641.8h.8M181.4 602.8h.8M146.4 614.5h.8M142.9 610.7h.8M155.9 600.0h.8M139.7 607.1h.8M145.2 608.5h.8M151.5 603.2h.8M162.9 599.7h.8M142.6 607.1h.8M150.8 599.0h.8M169.2 597.8h.8M167.7 645.0h.8M144.8 614.8h.8M180.2 596.7h.8M140.8 601.1h.8M140.1 615.4h.8M147.3 603.4h.8M160.9 596.3h.8M166.6 641.0h.8M173.7 598.4h.8M177.0 610.6h.8M167.8 628.5h.8M167.6 639.7h.8M147.1 602.4h.8M150.6 602.4h.8M163.4 647.1h.8M167.1 634.7h.8M161.5 650.5h.8M165.4 600.2h.8M174.2 614.1h.8M167.2 638.9h.8M139.7 599.5h.8M156.1 596.9h.8M167.1 640.7h.8M171.6 617.3h.8M177.2 606.9h.8M180.9 596.6h.8M169.0 635.3h.8M144.2 607.4h.8M157.8 601.1h.8M161.9 598.9h.8M168.0 636.7h.8M171.1 625.8h.8M152.6 597.1h.8M173.6 594.7h.8M182.7 605.3h.8M172.4 627.7h.8M169.4 594.9h.8M171.0 594.6h.8M167.3 594.8h.8M168.9 638.0h.8M178.0 610.2h.8M167.8 645.4h.8M142.8 603.5h.8M182.1 606.8h.8M167.0 639.4h.8M166.9 632.0h.8M167.9 634.6h.8M153.8 599.3h.8M182.0 597.0h.8M177.3 611.4h.8M142.8 603.6h.8M160.4 648.8h.8M178.5 606.7h.8M143.9 619.3h.8M168.6 628.9h.8M140.2 617.8h.8M179.7 604.8h.8M160.6 647.4h.8M167.8 625.8h.8M165.2 598.0h.8M173.6 613.5h.8M164.5 597.7h.8M157.3 599.6h.8M167.1 595.7h.8M172.3 596.2h.8M172.8 615.1h.8M167.1 645.4h.8M173.8 611.7h.8M158.4 600.7h.8M171.3 620.4h.8M142.9 612.1h.8M170.1 597.7h.8M179.5 606.6h.8M179.3 606.2h.8M147.1 600.9h.8M146.3 602.0h.8M144.2 611.1h.8M142.4 608.9h.8M168.2 598.0h.8M165.0 645.7h.8M169.9 639.6h.8M167.4 646.6h.8M142.6 614.5h.8M144.3 608.5h.8M161.7 599.1h.8M183.2 585.0h.8M198.2 588.5h.8M169.4 595.9h.8M169.7 587.1h.8M203.0 582.0h.8M187.0 585.0h.8M163.2 586.0h.8M175.7 590.9h.8M193.9 586.4h.8M208.4 587.0h.8M167.6 594.7h.8M159.7 593.7h.8M169.2 592.8h.8M181.6 581.9h.8M166.6 597.0h.8M184.8 590.1h.8M195.2 576.5h.8M201.7 579.0h.8M191.2 583.1h.8M178.2 580.0h.8M173.9 596.8h.8M195.6 585.4h.8M202.6 582.3h.8M180.9 584.9h.8M205.1 580.1h.8M185.5 588.0h.8M186.2 582.9h.8M182.1 585.3h.8M167.0 592.2h.8M175.2 592.7h.8M187.2 582.2h.8M181.8 589.1h.8M189.6 582.2h.8M181.1 591.5h.8M194.2 588.6h.8M163.1 598.2h.8M201.4 581.1h.8M165.0 604.3h.8M182.1 586.8h.8M198.1 588.0h.8M168.7 601.4h.8M179.9 590.9h.8M175.7 587.6h.8M187.5 588.5h.8M179.0 592.6h.8M206.1 579.6h.8M193.6 579.3h.8M175.6 579.1h.8M176.5 590.5h.8M193.6 579.3h.8M165.0 591.3h.8M193.1 577.6h.8M161.1 593.0h.8M158.5 590.5h.8M190.2 581.7h.8M207.2 583.0h.8M158.2 594.0h.8M205.4 579.0h.8M202.6 579.8h.8M178.5 589.4h.8M196.8 581.6h.8M199.0 572.7h.8M198.9 584.1h.8M169.7 588.3h.8M192.1 579.9h.8M163.3 585.2h.8M160.2 595.8h.8M178.7 592.1h.8M161.1 593.4h.8M170.6 589.4h.8M163.8 594.1h.8M198.3 578.2h.8M173.3 593.6h.8M176.9 588.2h.8M192.9 576.5h.8M199.4 578.0h.8M168.8 597.3h.8M170.9 587.8h.8M175.2 589.3h.8M182.6 593.9h.8M181.0 581.9h.8M188.3 576.2h.8M171.8 588.4h.8M198.2 572.7h.8M174.1 582.8h.8M174.4 589.3h.8M173.3 588.0h.8M196.8 576.7h.8M176.1 591.4h.8M189.6 590.3h.8M206.5 580.2h.8M179.5 586.6h.8M186.7 578.3h.8M178.0 589.0h.8M201.4 584.6h.8M191.5 577.0h.8M199.8 578.1h.8M173.8 603.2h.8M163.4 593.4h.8M171.6 592.4h.8M188.4 587.1h.8M178.1 593.2h.8M204.5 581.5h.8M182.2 590.0h.8M166.2 592.2h.8M177.7 593.3h.8M183.0 581.5h.8M179.0 586.7h.8M186.4 582.5h.8M189.6 583.8h.8M179.0 590.3h.8M183.7 584.3h.8M171.0 586.4h.8M186.5 578.2h.8M187.0 588.1h.8M204.2 574.9h.8M179.1 586.9h.8M160.6 595.8h.8M165.7 591.6h.8M195.4 579.7h.8M164.8 590.1h.8M187.6 575.3h.8M203.3 581.3h.8M158.3 590.0h.8M182.3 585.4h.8M194.8 586.1h.8M193.2 582.6h.8M164.3 598.8h.8M193.7 582.5h.8M165.4 593.4h.8M167.0 596.5h.8M185.9 585.2h.8M200.9 581.7h.8M177.9 595.9h.8M187.8 581.6h.8M200.6 578.7h.8M185.2 592.4h.8M202.9 576.3h.8M189.6 584.0h.8M204.7 576.3h.8M190.9 585.3h.8M172.6 582.6h.8M191.3 581.6h.8M183.7 585.0h.8M198.6 570.9h.8M161.8 594.1h.8M176.2 583.7h.8M198.0 579.2h.8M179.9 582.7h.8M189.4 581.2h.8M184.8 582.6h.8M199.9 581.0h.8M175.6 589.5h.8M202.9 573.1h.8M168.1 589.8h.8M200.4 580.6h.8M192.8 581.7h.8M194.9 584.7h.8M180.5 589.0h.8M193.3 584.0h.8M190.0 584.0h.8M180.9 585.9h.8M165.2 592.2h.8M169.7 591.7h.8M187.0 589.4h.8M170.5 600.5h.8M172.1 592.2h.8M171.9 588.3h.8M191.9 574.0h.8M197.7 576.0h.8M205.0 580.3h.8M181.5 590.1h.8M174.2 594.4h.8M200.3 574.6h.8M160.6 591.1h.8M196.3 582.7h.8M183.1 590.1h.8M175.0 588.2h.8M169.5 595.5h.8M195.0 586.2h.8M166.6 589.5h.8M204.4 576.7h.8M182.7 588.2h.8M198.9 575.6h.8M162.7 600.8h.8M186.2 591.0h.8M182.4 583.7h.8M188.5 580.8h.8M175.2 583.8h.8M172.3 587.9h.8M196.9 586.7h.8M157.5 585.8h.8M179.8 589.9h.8M182.3 589.7h.8M197.5 586.0h.8M200.5 584.5h.8M203.6 576.8h.8M190.9 579.4h.8M185.3 584.3h.8M178.4 597.8h.8M199.3 582.5h.8M164.7 592.3h.8M197.3 581.2h.8M200.3 580.4h.8M170.5 592.5h.8M194.5 586.1h.8M168.5 593.1h.8M172.2 593.7h.8M191.9 578.1h.8M198.4 574.0h.8M160.8 596.2h.8M178.9 595.7h.8M204.8 578.2h.8M197.9 592.0h.8M192.4 587.1h.8M174.4 589.0h.8M179.3 587.7h.8M184.7 576.6h.8M193.9 577.0h.8M162.8 589.1h.8M195.6 576.2h.8M165.5 594.4h.8M187.6 585.4h.8M186.4 589.7h.8M169.5 593.6h.8M176.5 591.9h.8M197.3 579.9h.8M167.6 598.2h.8M187.2 584.5h.8M195.7 577.3h.8M161.1 599.1h.8M196.0 581.9h.8M163.6 595.8h.8M172.1 588.7h.8M165.2 597.3h.8M200.1 573.9h.8M189.2 578.6h.8M184.5 583.9h.8M187.5 588.0h.8M167.8 593.5h.8M203.9 573.9h.8M178.5 582.4h.8M161.2 598.9h.8M175.7 599.2h.8M186.0 582.2h.8M162.6 596.9h.8M162.6 595.9h.8M181.6 583.9h.8M186.1 585.5h.8M178.0 586.2h.8M192.9 579.0h.8M186.9 580.0h.8M197.1 584.2h.8M162.9 592.3h.8M164.3 592.1h.8M177.5 582.9h.8M191.8 583.5h.8M179.1 593.6h.8M195.3 584.7h.8M164.1 595.1h.8" stroke="#222" stroke-width="0.8" fill="none" opacity="0.55"/>
<path d="M145.5,604.4C147.6,597.0 154.2,602.3 158.1,601.3C162.0,600.3 164.8,598.9 168.7,598.6C172.6,598.3 179.9,598.1 181.3,599.7C182.7,601.3 178.8,605.3 177.1,608.2C175.3,611.1 172.4,613.5 170.8,617.1C169.2,620.7 168.3,625.2 167.6,629.8C166.9,634.4 170.2,642.0 166.5,644.6C162.8,647.2 149.0,652.4 145.5,645.7C142.0,639.0 143.4,611.8 145.5,604.4Z" fill="#f4f4f4" stroke="#333" stroke-width="0.9"/>
<path d="M157.5 621.0h.9M163.5 630.6h.9M163.1 618.3h.9M161.5 615.1h.9M158.6 622.7h.9M170.8 615.7h.9M160.8 634.7h.9M152.6 630.4h.9M164.4 627.5h.9M148.9 632.2h.9M155.9 636.7h.9M168.5 622.7h.9M162.7 612.7h.9M150.1 623.2h.9M147.4 626.0h.9M165.6 622.2h.9M170.4 610.1h.9M157.8 626.1h.9M159.1 630.6h.9M161.8 631.6h.9M163.3 615.9h.9M163.7 638.5h.9M171.3 612.3h.9M157.1 613.7h.9M164.5 613.6h.9M152.4 625.8h.9M162.7 634.4h.9M155.5 622.1h.9M146.4 616.3h.9M163.6 643.2h.9M163.3 622.9h.9M161.6 619.0h.9M154.2 611.5h.9M162.1 635.3h.9M156.1 629.6h.9M156.1 625.4h.9M148.5 622.4h.9M166.1 618.9h.9M166.3 637.0h.9M157.2 610.8h.9M164.5 625.1h.9M165.6 627.7h.9M147.2 625.8h.9M169.1 610.8h.9M148.8 627.1h.9M154.1 625.5h.9M162.3 616.7h.9M167.5 617.4h.9M165.1 614.9h.9M151.0 621.2h.9M150.4 630.3h.9M163.5 613.3h.9M162.3 625.3h.9M163.6 625.1h.9M169.3 613.4h.9M147.9 636.1h.9M166.6 626.6h.9M164.8 636.8h.9M160.4 617.1h.9M152.0 633.6h.9M152.0 626.7h.9M151.0 617.8h.9M148.2 614.2h.9M149.3 630.0h.9M165.5 613.7h.9M151.9 613.1h.9M154.7 633.5h.9M156.1 614.5h.9M153.3 621.0h.9M152.7 615.2h.9M158.4 619.1h.9M159.0 628.2h.9M149.1 612.5h.9M158.3 621.3h.9M160.1 627.0h.9M173.2 613.6h.9M169.8 615.7h.9M147.3 617.1h.9M153.5 625.1h.9M171.6 612.9h.9M155.4 617.1h.9M167.1 635.8h.9M166.3 635.0h.9M152.3 636.7h.9M154.2 626.5h.9M163.4 623.8h.9M153.7 613.7h.9M166.4 635.2h.9M161.4 634.8h.9M151.5 621.9h.9M160.5 622.2h.9M152.3 627.7h.9M155.4 625.4h.9M163.2 619.1h.9M147.0 629.7h.9M168.4 626.0h.9M161.7 636.4h.9M158.8 628.2h.9M162.3 623.7h.9M168.5 616.5h.9M146.2 628.7h.9M146.5 622.4h.9M151.7 631.7h.9M154.8 623.9h.9M162.0 640.8h.9M157.8 627.1h.9M150.8 611.9h.9M170.5 616.7h.9M148.2 635.0h.9M153.4 635.7h.9M166.4 616.1h.9M161.6 611.9h.9M163.7 640.3h.9M165.7 616.9h.9M152.1 625.0h.9M156.5 624.6h.9M161.2 612.4h.9M154.3 626.4h.9M162.0 631.5h.9M158.6 635.1h.9M145.6 611.0h.9M147.0 627.7h.9M165.6 629.3h.9M147.8 635.3h.9M171.1 610.1h.9M163.3 630.5h.9M158.1 615.5h.9M157.1 629.2h.9M163.6 623.9h.9M158.8 618.9h.9" stroke="#333" stroke-width="0.9" opacity="0.55"/>
<path d="M146.3,608.2C148.1,601.8 154.4,605.7 157.7,605.0C161.0,604.3 163.0,604.0 166.3,603.8C169.6,603.6 176.4,602.4 177.7,603.8C179.0,605.2 175.7,609.5 174.1,612.0C172.6,614.5 169.9,615.8 168.4,618.7C167.0,621.6 166.1,625.5 165.5,629.4C164.9,633.3 167.8,639.7 164.7,641.9C161.5,644.2 149.7,648.5 146.6,642.9C143.6,637.3 144.5,614.5 146.3,608.2Z" fill="none" stroke="#666" stroke-width="0.7"/>
<path d="M148.1,611.4C149.6,606.0 154.7,610.3 157.4,609.7C160.1,609.1 161.4,608.0 164.2,607.7C166.9,607.4 172.8,606.9 173.9,607.9C175.1,608.9 172.4,611.6 171.0,613.8C169.7,615.9 167.0,618.2 165.9,620.9C164.7,623.7 164.6,627.1 164.2,630.4C163.7,633.7 165.7,638.9 163.1,640.8C160.4,642.7 150.9,646.7 148.4,641.8C145.9,636.9 146.6,616.7 148.1,611.4Z" fill="none" stroke="#555" stroke-width="0.7"/>
<path d="M148.7,614.6C150.0,610.2 154.5,613.3 156.8,612.8C159.1,612.3 160.1,611.9 162.3,611.7C164.6,611.4 169.4,610.6 170.2,611.4C171.1,612.2 168.6,614.6 167.7,616.4C166.7,618.1 165.6,619.5 164.6,621.8C163.6,624.2 162.1,627.6 161.6,630.4C161.0,633.3 163.4,637.4 161.3,638.9C159.1,640.4 150.8,643.3 148.7,639.2C146.6,635.2 147.4,619.0 148.7,614.6Z" fill="none" stroke="#444" stroke-width="0.8"/>
<path d="M150.3,617.5C151.3,613.8 154.0,616.5 155.9,616.0C157.8,615.6 159.7,615.0 161.7,614.7C163.6,614.5 166.8,614.0 167.6,614.8C168.3,615.5 166.9,617.6 166.0,619.1C165.1,620.5 163.1,621.9 162.2,623.7C161.4,625.5 161.5,627.6 161.0,629.9C160.6,632.3 161.7,636.6 159.7,637.9C157.8,639.2 150.9,641.4 149.4,638.0C147.8,634.5 149.2,621.1 150.3,617.5Z" fill="none" stroke="#333" stroke-width="0.8"/>
<path d="M146.0,613.0C147.2,608.8 151.7,610.7 154.0,611.0C156.3,611.3 158.8,612.2 160.0,615.0C161.2,617.8 161.8,624.5 161.5,628.0C161.2,631.5 160.4,634.7 158.0,636.0C155.6,637.3 149.0,639.8 147.0,636.0C145.0,632.2 144.8,617.2 146.0,613.0Z" fill="#333" opacity="0.6" filter="url(#fbl)"/>
<path d="M148.0,614.0C148.3,612.5 150.0,621.7 150.0,625.0C150.0,628.3 148.3,635.8 148.0,634.0" fill="none" stroke="#000" stroke-width="1.8" stroke-linecap="round" filter="url(#fbl)"/>
<path d="M156.0,613.0C156.3,611.3 158.0,620.5 158.0,624.0C158.0,627.5 156.3,635.8 156.0,634.0" fill="none" stroke="#111" stroke-width="1.6" stroke-linecap="round" filter="url(#fbl)"/>
<path d="M152.0,616.0C152.0,616.0 153.0,630.0 153.0,630.0" fill="none" stroke="#222" stroke-width="1.2" stroke-linecap="round" filter="url(#fbl)"/>
<ellipse cx="154" cy="622" rx="1" ry="3" fill="#fff" opacity="0.9" filter="url(#fbl)"/>
</g>
<line x1="168.2" y1="570.2" x2="168.2" y2="646.7" stroke="#4b59a2" stroke-width="1.2"/>
<line x1="145" y1="622.8" x2="218.4" y2="622.8" stroke="#4b59a2" stroke-width="1.2"/>
<rect x="145" y="570.2" width="73.4" height="76.5" fill="none" stroke="#111" stroke-width="1"/>
<line x1="145" y1="570.2" x2="145" y2="647.7" stroke="#000" stroke-width="1.5"/>
<line x1="144" y1="646.7" x2="218.4" y2="646.7" stroke="#000" stroke-width="1.5"/>
<path d="M142.0 642.9h3M142.0 627.2h3M142.0 610.0h3M142.0 592.8h3M142.0 575.6h3M149.4 646.7v3M159.7 646.7v3M177.3 646.7v3M193.8 646.7v3M211.1 646.7v3M143.2 638.2h1.8M143.2 635.3h1.8M143.2 633.5h1.8M143.2 631.9h1.8M143.2 630.6h1.8M143.2 629.5h1.8M143.2 628.8h1.8M143.2 628.0h1.8M152.5 646.7v1.8M154.3 646.7v1.8M155.6 646.7v1.8M156.6 646.7v1.8M157.4 646.7v1.8M158.1 646.7v1.8M158.7 646.7v1.8M159.2 646.7v1.8M143.2 622.0h1.8M143.2 618.9h1.8M143.2 616.9h1.8M143.2 615.1h1.8M143.2 613.8h1.8M143.2 612.6h1.8M143.2 611.7h1.8M143.2 610.8h1.8M165.0 646.7v1.8M168.1 646.7v1.8M170.2 646.7v1.8M172.0 646.7v1.8M173.4 646.7v1.8M174.7 646.7v1.8M175.5 646.7v1.8M176.4 646.7v1.8M143.2 604.8h1.8M143.2 601.7h1.8M143.2 599.7h1.8M143.2 597.9h1.8M143.2 596.6h1.8M143.2 595.3h1.8M143.2 594.5h1.8M143.2 593.6h1.8M182.3 646.7v1.8M185.2 646.7v1.8M187.2 646.7v1.8M188.9 646.7v1.8M190.2 646.7v1.8M191.3 646.7v1.8M192.2 646.7v1.8M193.0 646.7v1.8M143.2 587.6h1.8M143.2 584.5h1.8M143.2 582.4h1.8M143.2 580.7h1.8M143.2 579.3h1.8M143.2 578.1h1.8M143.2 577.3h1.8M143.2 576.4h1.8M199.0 646.7v1.8M202.1 646.7v1.8M204.2 646.7v1.8M205.9 646.7v1.8M207.3 646.7v1.8M208.5 646.7v1.8M209.3 646.7v1.8M210.2 646.7v1.8" stroke="#000" stroke-width="0.8"/>
<text x="141" y="645.1" font-size="6.3" fill="#444" text-anchor="end">0</text>
<text x="137.2" y="629.4" font-size="6.3" fill="#444" text-anchor="end">10<tspan font-size="4.2" dy="-2.6">2</tspan></text>
<text x="137.2" y="612.2" font-size="6.3" fill="#444" text-anchor="end">10<tspan font-size="4.2" dy="-2.6">3</tspan></text>
<text x="137.2" y="595.0" font-size="6.3" fill="#444" text-anchor="end">10<tspan font-size="4.2" dy="-2.6">4</tspan></text>
<text x="137.2" y="577.8" font-size="6.3" fill="#444" text-anchor="end">10<tspan font-size="4.2" dy="-2.6">5</tspan></text>
<text x="149.4" y="658.7" font-size="6.3" fill="#444" text-anchor="middle">0</text>
<text x="161.2" y="658.7" font-size="6.3" fill="#444" text-anchor="middle">10<tspan font-size="4.2" dy="-2.6">2</tspan></text>
<text x="178.8" y="658.7" font-size="6.3" fill="#444" text-anchor="middle">10<tspan font-size="4.2" dy="-2.6">3</tspan></text>
<text x="195.3" y="658.7" font-size="6.3" fill="#444" text-anchor="middle">10<tspan font-size="4.2" dy="-2.6">4</tspan></text>
<text x="212.6" y="658.7" font-size="6.3" fill="#444" text-anchor="middle">10<tspan font-size="4.2" dy="-2.6">5</tspan></text>
<text x="146.8" y="577.8000000000001" font-size="9.2" fill="#4b59a2">38.4</text>
<text x="217.20000000000002" y="577.8000000000001" font-size="9.2" fill="#4b59a2" text-anchor="end">5.08</text>
<text x="146.8" y="645.1" font-size="9.2" fill="#4b59a2">56.4</text>
<text x="217.20000000000002" y="645.1" font-size="9.2" fill="#4b59a2" text-anchor="end">0.17</text>
<path d="M23.6,531.6 V552.5 H44.4" fill="none" stroke="#000" stroke-width="1.6"/>
<path d="M23.6,525.1 L27.3,531.6 L19.900000000000002,531.6 Z" fill="#fff" stroke="#000" stroke-width="1"/>
<path d="M54.4,552.5 L44.4,548.8 L44.4,556.2 Z" fill="#fff" stroke="#000" stroke-width="1"/>
<text transform="translate(18.6,540.2) rotate(-90)" font-size="12" text-anchor="middle" fill="#111">c-Kit</text>
<text x="20.8" y="565.4" font-size="11.5" fill="#111" textLength="29.5" lengthAdjust="spacingAndGlyphs">CD41</text>
<path d="M22.6,639.7 V661.2 H44.4" fill="none" stroke="#000" stroke-width="1.6"/>
<path d="M22.6,633.2 L26.3,639.7 L18.900000000000002,639.7 Z" fill="#fff" stroke="#000" stroke-width="1"/>
<path d="M54.4,661.2 L44.4,657.5 L44.4,664.9000000000001 Z" fill="#fff" stroke="#000" stroke-width="1"/>
<text transform="translate(17.8,646.7) rotate(-90)" font-size="12" text-anchor="middle" fill="#111">CD41</text>
<text x="19.8" y="675" font-size="11.5" fill="#111" textLength="29.5" lengthAdjust="spacingAndGlyphs">CD42</text>
</svg></body></html>
